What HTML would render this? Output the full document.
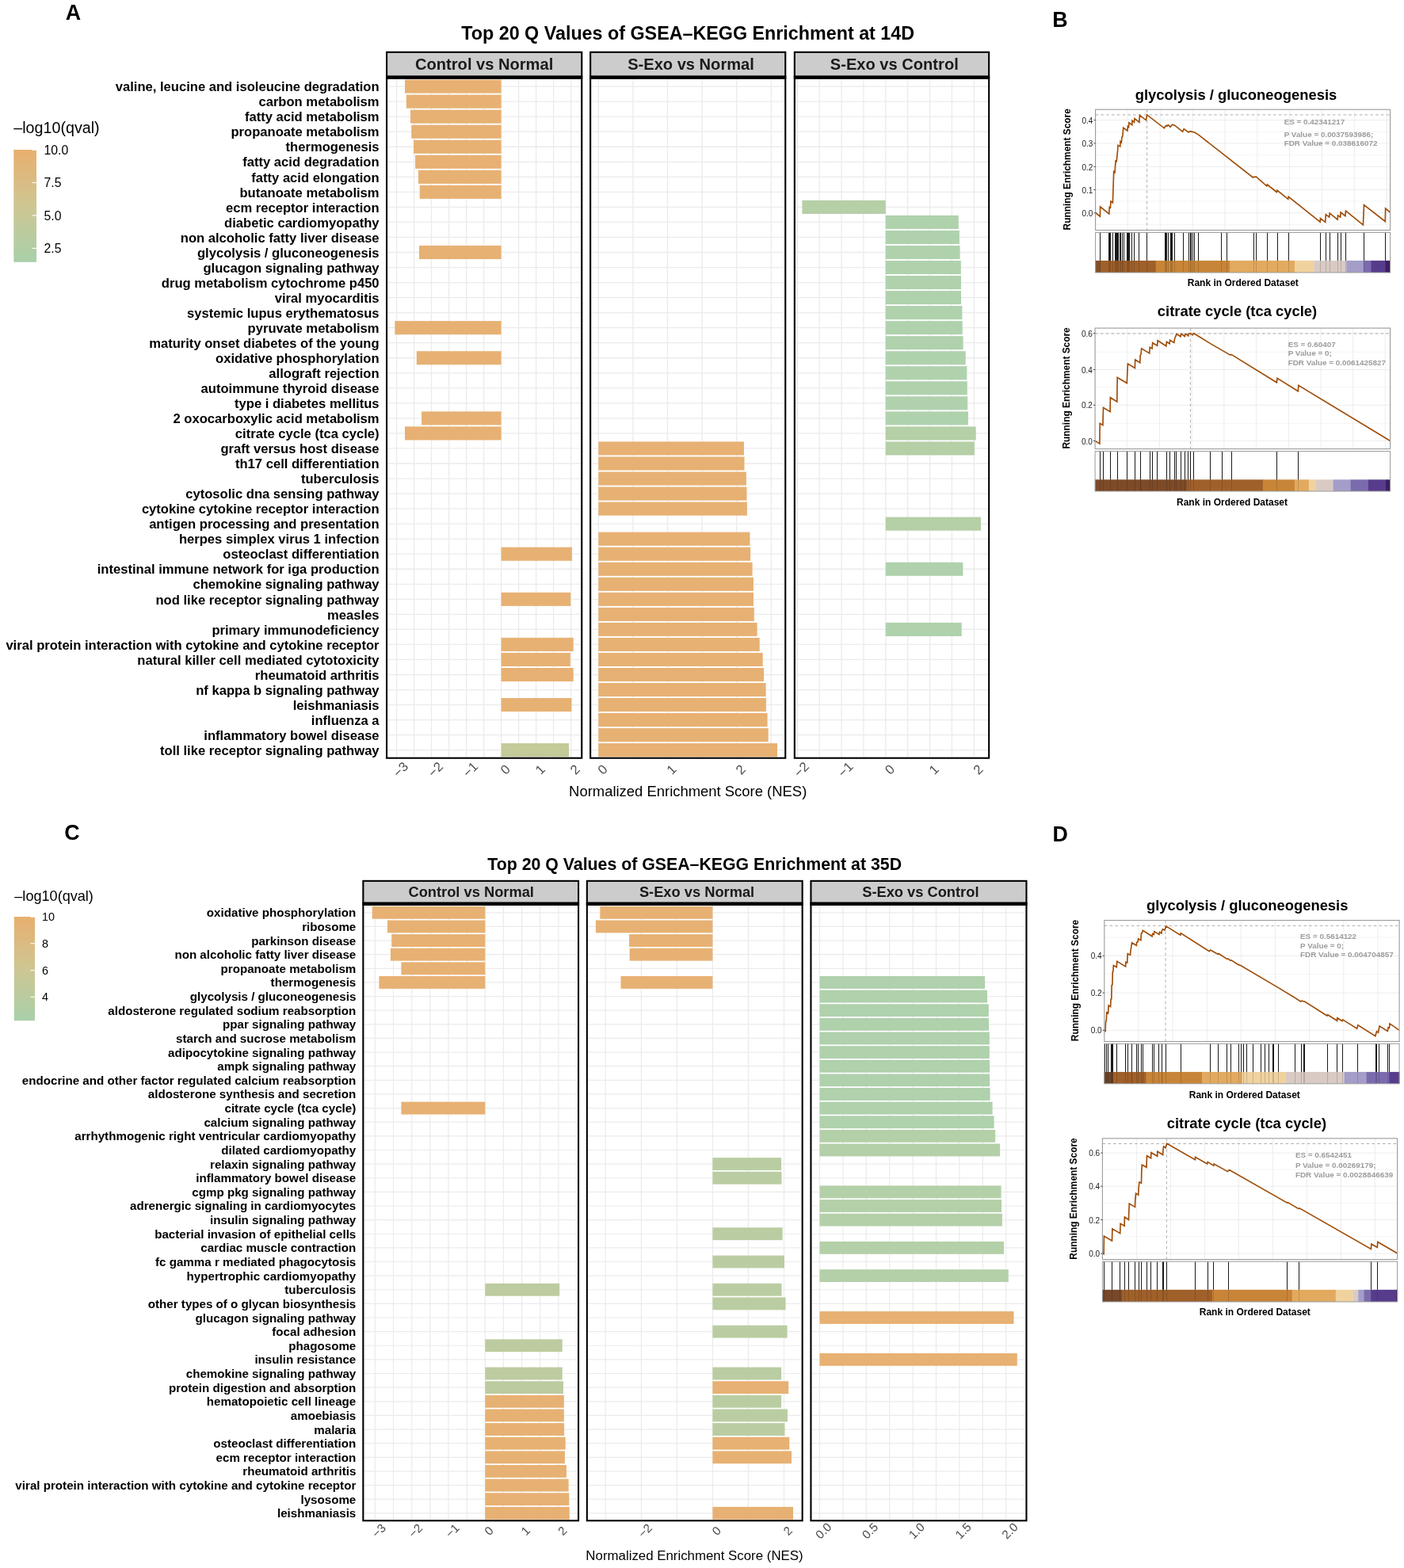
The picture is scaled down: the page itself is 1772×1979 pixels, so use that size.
<!DOCTYPE html>
<html><head><meta charset="utf-8"><title>GSEA-KEGG Enrichment</title>
<style>html,body{margin:0;padding:0;background:#fff;} body{width:1772px;height:1979px;overflow:hidden;} svg{display:block;}</style>
</head><body>
<svg width="1772" height="1979" viewBox="0 0 1772 1979" font-family="'Liberation Sans', Arial, Helvetica, sans-serif">
<rect width="1772" height="1979" fill="#FFFFFF"/>
<text x="92.4" y="25.4" font-size="26.8" font-weight="bold" text-anchor="middle" fill="#000">A</text>
<text x="1337.9" y="34.4" font-size="26.8" font-weight="bold" text-anchor="middle" fill="#000">B</text>
<text x="91" y="1060.3" font-size="26.8" font-weight="bold" text-anchor="middle" fill="#000">C</text>
<text x="1338.3" y="1061.9" font-size="26.8" font-weight="bold" text-anchor="middle" fill="#000">D</text>
<text x="868.2" y="50.2" font-size="23.3" font-weight="bold" text-anchor="middle" fill="#000">Top 20 Q Values of GSEA–KEGG Enrichment at 14D</text>
<rect x="488.05" y="65.85" width="246.2" height="30.8" fill="#CCCCCC" stroke="#000" stroke-width="2.1"/>
<text x="611.15" y="88.2" font-size="20.1" font-weight="bold" text-anchor="middle" fill="#1A1A1A">Control vs Normal</text>
<rect x="489.1" y="99.7" width="244.1" height="856" fill="#FFFFFF"/>
<line x1="522.6" y1="99.7" x2="522.6" y2="955.7" stroke="#EBEBEB" stroke-width="1.3"/><line x1="566.6" y1="99.7" x2="566.6" y2="955.7" stroke="#EBEBEB" stroke-width="1.3"/><line x1="610.6" y1="99.7" x2="610.6" y2="955.7" stroke="#EBEBEB" stroke-width="1.3"/><line x1="654.6" y1="99.7" x2="654.6" y2="955.7" stroke="#EBEBEB" stroke-width="1.3"/><line x1="698.6" y1="99.7" x2="698.6" y2="955.7" stroke="#EBEBEB" stroke-width="1.3"/><line x1="500.6" y1="99.7" x2="500.6" y2="955.7" stroke="#EBEBEB" stroke-width="1.3"/><line x1="544.6" y1="99.7" x2="544.6" y2="955.7" stroke="#EBEBEB" stroke-width="1.3"/><line x1="588.6" y1="99.7" x2="588.6" y2="955.7" stroke="#EBEBEB" stroke-width="1.3"/><line x1="632.6" y1="99.7" x2="632.6" y2="955.7" stroke="#EBEBEB" stroke-width="1.3"/><line x1="676.6" y1="99.7" x2="676.6" y2="955.7" stroke="#EBEBEB" stroke-width="1.3"/><line x1="720.6" y1="99.7" x2="720.6" y2="955.7" stroke="#EBEBEB" stroke-width="1.3"/><line x1="489.1" y1="109.1" x2="733.2" y2="109.1" stroke="#EBEBEB" stroke-width="1.3"/><line x1="489.1" y1="128.14" x2="733.2" y2="128.14" stroke="#EBEBEB" stroke-width="1.3"/><line x1="489.1" y1="147.17" x2="733.2" y2="147.17" stroke="#EBEBEB" stroke-width="1.3"/><line x1="489.1" y1="166.21" x2="733.2" y2="166.21" stroke="#EBEBEB" stroke-width="1.3"/><line x1="489.1" y1="185.24" x2="733.2" y2="185.24" stroke="#EBEBEB" stroke-width="1.3"/><line x1="489.1" y1="204.28" x2="733.2" y2="204.28" stroke="#EBEBEB" stroke-width="1.3"/><line x1="489.1" y1="223.32" x2="733.2" y2="223.32" stroke="#EBEBEB" stroke-width="1.3"/><line x1="489.1" y1="242.35" x2="733.2" y2="242.35" stroke="#EBEBEB" stroke-width="1.3"/><line x1="489.1" y1="261.39" x2="733.2" y2="261.39" stroke="#EBEBEB" stroke-width="1.3"/><line x1="489.1" y1="280.42" x2="733.2" y2="280.42" stroke="#EBEBEB" stroke-width="1.3"/><line x1="489.1" y1="299.46" x2="733.2" y2="299.46" stroke="#EBEBEB" stroke-width="1.3"/><line x1="489.1" y1="318.5" x2="733.2" y2="318.5" stroke="#EBEBEB" stroke-width="1.3"/><line x1="489.1" y1="337.53" x2="733.2" y2="337.53" stroke="#EBEBEB" stroke-width="1.3"/><line x1="489.1" y1="356.57" x2="733.2" y2="356.57" stroke="#EBEBEB" stroke-width="1.3"/><line x1="489.1" y1="375.6" x2="733.2" y2="375.6" stroke="#EBEBEB" stroke-width="1.3"/><line x1="489.1" y1="394.64" x2="733.2" y2="394.64" stroke="#EBEBEB" stroke-width="1.3"/><line x1="489.1" y1="413.68" x2="733.2" y2="413.68" stroke="#EBEBEB" stroke-width="1.3"/><line x1="489.1" y1="432.71" x2="733.2" y2="432.71" stroke="#EBEBEB" stroke-width="1.3"/><line x1="489.1" y1="451.75" x2="733.2" y2="451.75" stroke="#EBEBEB" stroke-width="1.3"/><line x1="489.1" y1="470.78" x2="733.2" y2="470.78" stroke="#EBEBEB" stroke-width="1.3"/><line x1="489.1" y1="489.82" x2="733.2" y2="489.82" stroke="#EBEBEB" stroke-width="1.3"/><line x1="489.1" y1="508.86" x2="733.2" y2="508.86" stroke="#EBEBEB" stroke-width="1.3"/><line x1="489.1" y1="527.89" x2="733.2" y2="527.89" stroke="#EBEBEB" stroke-width="1.3"/><line x1="489.1" y1="546.93" x2="733.2" y2="546.93" stroke="#EBEBEB" stroke-width="1.3"/><line x1="489.1" y1="565.96" x2="733.2" y2="565.96" stroke="#EBEBEB" stroke-width="1.3"/><line x1="489.1" y1="585" x2="733.2" y2="585" stroke="#EBEBEB" stroke-width="1.3"/><line x1="489.1" y1="604.04" x2="733.2" y2="604.04" stroke="#EBEBEB" stroke-width="1.3"/><line x1="489.1" y1="623.07" x2="733.2" y2="623.07" stroke="#EBEBEB" stroke-width="1.3"/><line x1="489.1" y1="642.11" x2="733.2" y2="642.11" stroke="#EBEBEB" stroke-width="1.3"/><line x1="489.1" y1="661.14" x2="733.2" y2="661.14" stroke="#EBEBEB" stroke-width="1.3"/><line x1="489.1" y1="680.18" x2="733.2" y2="680.18" stroke="#EBEBEB" stroke-width="1.3"/><line x1="489.1" y1="699.22" x2="733.2" y2="699.22" stroke="#EBEBEB" stroke-width="1.3"/><line x1="489.1" y1="718.25" x2="733.2" y2="718.25" stroke="#EBEBEB" stroke-width="1.3"/><line x1="489.1" y1="737.29" x2="733.2" y2="737.29" stroke="#EBEBEB" stroke-width="1.3"/><line x1="489.1" y1="756.32" x2="733.2" y2="756.32" stroke="#EBEBEB" stroke-width="1.3"/><line x1="489.1" y1="775.36" x2="733.2" y2="775.36" stroke="#EBEBEB" stroke-width="1.3"/><line x1="489.1" y1="794.4" x2="733.2" y2="794.4" stroke="#EBEBEB" stroke-width="1.3"/><line x1="489.1" y1="813.43" x2="733.2" y2="813.43" stroke="#EBEBEB" stroke-width="1.3"/><line x1="489.1" y1="832.47" x2="733.2" y2="832.47" stroke="#EBEBEB" stroke-width="1.3"/><line x1="489.1" y1="851.5" x2="733.2" y2="851.5" stroke="#EBEBEB" stroke-width="1.3"/><line x1="489.1" y1="870.54" x2="733.2" y2="870.54" stroke="#EBEBEB" stroke-width="1.3"/><line x1="489.1" y1="889.58" x2="733.2" y2="889.58" stroke="#EBEBEB" stroke-width="1.3"/><line x1="489.1" y1="908.61" x2="733.2" y2="908.61" stroke="#EBEBEB" stroke-width="1.3"/><line x1="489.1" y1="927.65" x2="733.2" y2="927.65" stroke="#EBEBEB" stroke-width="1.3"/><line x1="489.1" y1="946.68" x2="733.2" y2="946.68" stroke="#EBEBEB" stroke-width="1.3"/>
<rect x="511" y="100.55" width="121.6" height="17.1" fill="#E7B173"/><rect x="512.8" y="119.59" width="119.8" height="17.1" fill="#E7B173"/><rect x="518" y="138.62" width="114.6" height="17.1" fill="#E7B173"/><rect x="519.2" y="157.66" width="113.4" height="17.1" fill="#E7B173"/><rect x="522" y="176.69" width="110.6" height="17.1" fill="#E7B173"/><rect x="524.1" y="195.73" width="108.5" height="17.1" fill="#E7B173"/><rect x="527.9" y="214.77" width="104.7" height="17.1" fill="#E7B173"/><rect x="529.7" y="233.8" width="102.9" height="17.1" fill="#E7B173"/><rect x="529" y="309.95" width="103.6" height="17.1" fill="#E7B173"/><rect x="498.3" y="405.13" width="134.3" height="17.1" fill="#E7B173"/><rect x="525.8" y="443.2" width="106.8" height="17.1" fill="#E7B173"/><rect x="532.1" y="519.34" width="100.5" height="17.1" fill="#E7B173"/><rect x="511" y="538.38" width="121.6" height="17.1" fill="#E7B173"/><rect x="632.6" y="690.67" width="89.3" height="17.1" fill="#E7B173"/><rect x="632.6" y="747.77" width="87.6" height="17.1" fill="#E7B173"/><rect x="632.6" y="804.88" width="91.1" height="17.1" fill="#E7B173"/><rect x="632.6" y="823.92" width="87.2" height="17.1" fill="#E7B173"/><rect x="632.6" y="842.95" width="91.1" height="17.1" fill="#E7B173"/><rect x="632.6" y="881.03" width="88.9" height="17.1" fill="#E7B173"/><rect x="632.6" y="938.13" width="85.4" height="17.1" fill="#C4CA99"/>
<rect x="488.05" y="98.65" width="246.2" height="858.1" fill="none" stroke="#000" stroke-width="2.1"/>
<rect x="487" y="95.6" width="248.3" height="4.1" fill="#000"/>
<text x="0" y="0" font-size="16.6" text-anchor="middle" dominant-baseline="central" fill="#4D4D4D" transform="translate(505.8,971.4) rotate(-45)">−3</text>
<text x="0" y="0" font-size="16.6" text-anchor="middle" dominant-baseline="central" fill="#4D4D4D" transform="translate(549.8,971.4) rotate(-45)">−2</text>
<text x="0" y="0" font-size="16.6" text-anchor="middle" dominant-baseline="central" fill="#4D4D4D" transform="translate(593.8,971.4) rotate(-45)">−1</text>
<text x="0" y="0" font-size="16.6" text-anchor="middle" dominant-baseline="central" fill="#4D4D4D" transform="translate(637.8,971.4) rotate(-45)">0</text>
<text x="0" y="0" font-size="16.6" text-anchor="middle" dominant-baseline="central" fill="#4D4D4D" transform="translate(681.8,971.4) rotate(-45)">1</text>
<text x="0" y="0" font-size="16.6" text-anchor="middle" dominant-baseline="central" fill="#4D4D4D" transform="translate(725.8,971.4) rotate(-45)">2</text>
<rect x="745.15" y="65.85" width="246.1" height="30.8" fill="#CCCCCC" stroke="#000" stroke-width="2.1"/>
<text x="872" y="88.2" font-size="20.1" font-weight="bold" text-anchor="middle" fill="#1A1A1A">S-Exo vs Normal</text>
<rect x="746.2" y="99.7" width="244" height="856" fill="#FFFFFF"/>
<line x1="798.9" y1="99.7" x2="798.9" y2="955.7" stroke="#EBEBEB" stroke-width="1.3"/><line x1="886.1" y1="99.7" x2="886.1" y2="955.7" stroke="#EBEBEB" stroke-width="1.3"/><line x1="973.3" y1="99.7" x2="973.3" y2="955.7" stroke="#EBEBEB" stroke-width="1.3"/><line x1="755.3" y1="99.7" x2="755.3" y2="955.7" stroke="#EBEBEB" stroke-width="1.3"/><line x1="842.5" y1="99.7" x2="842.5" y2="955.7" stroke="#EBEBEB" stroke-width="1.3"/><line x1="929.7" y1="99.7" x2="929.7" y2="955.7" stroke="#EBEBEB" stroke-width="1.3"/><line x1="746.2" y1="109.1" x2="990.2" y2="109.1" stroke="#EBEBEB" stroke-width="1.3"/><line x1="746.2" y1="128.14" x2="990.2" y2="128.14" stroke="#EBEBEB" stroke-width="1.3"/><line x1="746.2" y1="147.17" x2="990.2" y2="147.17" stroke="#EBEBEB" stroke-width="1.3"/><line x1="746.2" y1="166.21" x2="990.2" y2="166.21" stroke="#EBEBEB" stroke-width="1.3"/><line x1="746.2" y1="185.24" x2="990.2" y2="185.24" stroke="#EBEBEB" stroke-width="1.3"/><line x1="746.2" y1="204.28" x2="990.2" y2="204.28" stroke="#EBEBEB" stroke-width="1.3"/><line x1="746.2" y1="223.32" x2="990.2" y2="223.32" stroke="#EBEBEB" stroke-width="1.3"/><line x1="746.2" y1="242.35" x2="990.2" y2="242.35" stroke="#EBEBEB" stroke-width="1.3"/><line x1="746.2" y1="261.39" x2="990.2" y2="261.39" stroke="#EBEBEB" stroke-width="1.3"/><line x1="746.2" y1="280.42" x2="990.2" y2="280.42" stroke="#EBEBEB" stroke-width="1.3"/><line x1="746.2" y1="299.46" x2="990.2" y2="299.46" stroke="#EBEBEB" stroke-width="1.3"/><line x1="746.2" y1="318.5" x2="990.2" y2="318.5" stroke="#EBEBEB" stroke-width="1.3"/><line x1="746.2" y1="337.53" x2="990.2" y2="337.53" stroke="#EBEBEB" stroke-width="1.3"/><line x1="746.2" y1="356.57" x2="990.2" y2="356.57" stroke="#EBEBEB" stroke-width="1.3"/><line x1="746.2" y1="375.6" x2="990.2" y2="375.6" stroke="#EBEBEB" stroke-width="1.3"/><line x1="746.2" y1="394.64" x2="990.2" y2="394.64" stroke="#EBEBEB" stroke-width="1.3"/><line x1="746.2" y1="413.68" x2="990.2" y2="413.68" stroke="#EBEBEB" stroke-width="1.3"/><line x1="746.2" y1="432.71" x2="990.2" y2="432.71" stroke="#EBEBEB" stroke-width="1.3"/><line x1="746.2" y1="451.75" x2="990.2" y2="451.75" stroke="#EBEBEB" stroke-width="1.3"/><line x1="746.2" y1="470.78" x2="990.2" y2="470.78" stroke="#EBEBEB" stroke-width="1.3"/><line x1="746.2" y1="489.82" x2="990.2" y2="489.82" stroke="#EBEBEB" stroke-width="1.3"/><line x1="746.2" y1="508.86" x2="990.2" y2="508.86" stroke="#EBEBEB" stroke-width="1.3"/><line x1="746.2" y1="527.89" x2="990.2" y2="527.89" stroke="#EBEBEB" stroke-width="1.3"/><line x1="746.2" y1="546.93" x2="990.2" y2="546.93" stroke="#EBEBEB" stroke-width="1.3"/><line x1="746.2" y1="565.96" x2="990.2" y2="565.96" stroke="#EBEBEB" stroke-width="1.3"/><line x1="746.2" y1="585" x2="990.2" y2="585" stroke="#EBEBEB" stroke-width="1.3"/><line x1="746.2" y1="604.04" x2="990.2" y2="604.04" stroke="#EBEBEB" stroke-width="1.3"/><line x1="746.2" y1="623.07" x2="990.2" y2="623.07" stroke="#EBEBEB" stroke-width="1.3"/><line x1="746.2" y1="642.11" x2="990.2" y2="642.11" stroke="#EBEBEB" stroke-width="1.3"/><line x1="746.2" y1="661.14" x2="990.2" y2="661.14" stroke="#EBEBEB" stroke-width="1.3"/><line x1="746.2" y1="680.18" x2="990.2" y2="680.18" stroke="#EBEBEB" stroke-width="1.3"/><line x1="746.2" y1="699.22" x2="990.2" y2="699.22" stroke="#EBEBEB" stroke-width="1.3"/><line x1="746.2" y1="718.25" x2="990.2" y2="718.25" stroke="#EBEBEB" stroke-width="1.3"/><line x1="746.2" y1="737.29" x2="990.2" y2="737.29" stroke="#EBEBEB" stroke-width="1.3"/><line x1="746.2" y1="756.32" x2="990.2" y2="756.32" stroke="#EBEBEB" stroke-width="1.3"/><line x1="746.2" y1="775.36" x2="990.2" y2="775.36" stroke="#EBEBEB" stroke-width="1.3"/><line x1="746.2" y1="794.4" x2="990.2" y2="794.4" stroke="#EBEBEB" stroke-width="1.3"/><line x1="746.2" y1="813.43" x2="990.2" y2="813.43" stroke="#EBEBEB" stroke-width="1.3"/><line x1="746.2" y1="832.47" x2="990.2" y2="832.47" stroke="#EBEBEB" stroke-width="1.3"/><line x1="746.2" y1="851.5" x2="990.2" y2="851.5" stroke="#EBEBEB" stroke-width="1.3"/><line x1="746.2" y1="870.54" x2="990.2" y2="870.54" stroke="#EBEBEB" stroke-width="1.3"/><line x1="746.2" y1="889.58" x2="990.2" y2="889.58" stroke="#EBEBEB" stroke-width="1.3"/><line x1="746.2" y1="908.61" x2="990.2" y2="908.61" stroke="#EBEBEB" stroke-width="1.3"/><line x1="746.2" y1="927.65" x2="990.2" y2="927.65" stroke="#EBEBEB" stroke-width="1.3"/><line x1="746.2" y1="946.68" x2="990.2" y2="946.68" stroke="#EBEBEB" stroke-width="1.3"/>
<rect x="755.3" y="557.41" width="183.7" height="17.1" fill="#E7B173"/><rect x="755.3" y="576.45" width="184.2" height="17.1" fill="#E7B173"/><rect x="755.3" y="595.49" width="186.6" height="17.1" fill="#E7B173"/><rect x="755.3" y="614.52" width="187.2" height="17.1" fill="#E7B173"/><rect x="755.3" y="633.56" width="187.6" height="17.1" fill="#E7B173"/><rect x="755.3" y="671.63" width="191.2" height="17.1" fill="#E7B173"/><rect x="755.3" y="690.67" width="191.9" height="17.1" fill="#E7B173"/><rect x="755.3" y="709.7" width="194.3" height="17.1" fill="#E7B173"/><rect x="755.3" y="728.74" width="195.7" height="17.1" fill="#E7B173"/><rect x="755.3" y="747.77" width="195.7" height="17.1" fill="#E7B173"/><rect x="755.3" y="766.81" width="196.5" height="17.1" fill="#E7B173"/><rect x="755.3" y="785.85" width="200.3" height="17.1" fill="#E7B173"/><rect x="755.3" y="804.88" width="203.4" height="17.1" fill="#E7B173"/><rect x="755.3" y="823.92" width="207.4" height="17.1" fill="#E7B173"/><rect x="755.3" y="842.95" width="208.8" height="17.1" fill="#E7B173"/><rect x="755.3" y="861.99" width="211.3" height="17.1" fill="#E7B173"/><rect x="755.3" y="881.03" width="211.6" height="17.1" fill="#E7B173"/><rect x="755.3" y="900.06" width="213.3" height="17.1" fill="#E7B173"/><rect x="755.3" y="919.1" width="214.4" height="17.1" fill="#E7B173"/><rect x="755.3" y="938.13" width="225.7" height="17.1" fill="#E7B173"/>
<rect x="745.15" y="98.65" width="246.1" height="858.1" fill="none" stroke="#000" stroke-width="2.1"/>
<rect x="744.1" y="95.6" width="248.2" height="4.1" fill="#000"/>
<text x="0" y="0" font-size="16.6" text-anchor="middle" dominant-baseline="central" fill="#4D4D4D" transform="translate(760.5,971.4) rotate(-45)">0</text>
<text x="0" y="0" font-size="16.6" text-anchor="middle" dominant-baseline="central" fill="#4D4D4D" transform="translate(847.7,971.4) rotate(-45)">1</text>
<text x="0" y="0" font-size="16.6" text-anchor="middle" dominant-baseline="central" fill="#4D4D4D" transform="translate(934.9,971.4) rotate(-45)">2</text>
<rect x="1002.85" y="65.85" width="245.3" height="30.8" fill="#CCCCCC" stroke="#000" stroke-width="2.1"/>
<text x="1128.8" y="88.2" font-size="20.1" font-weight="bold" text-anchor="middle" fill="#1A1A1A">S-Exo vs Control</text>
<rect x="1003.9" y="99.7" width="243.2" height="856" fill="#FFFFFF"/>
<line x1="1034.17" y1="99.7" x2="1034.17" y2="955.7" stroke="#EBEBEB" stroke-width="1.3"/><line x1="1089.92" y1="99.7" x2="1089.92" y2="955.7" stroke="#EBEBEB" stroke-width="1.3"/><line x1="1145.67" y1="99.7" x2="1145.67" y2="955.7" stroke="#EBEBEB" stroke-width="1.3"/><line x1="1201.42" y1="99.7" x2="1201.42" y2="955.7" stroke="#EBEBEB" stroke-width="1.3"/><line x1="1006.3" y1="99.7" x2="1006.3" y2="955.7" stroke="#EBEBEB" stroke-width="1.3"/><line x1="1062.05" y1="99.7" x2="1062.05" y2="955.7" stroke="#EBEBEB" stroke-width="1.3"/><line x1="1117.8" y1="99.7" x2="1117.8" y2="955.7" stroke="#EBEBEB" stroke-width="1.3"/><line x1="1173.55" y1="99.7" x2="1173.55" y2="955.7" stroke="#EBEBEB" stroke-width="1.3"/><line x1="1229.3" y1="99.7" x2="1229.3" y2="955.7" stroke="#EBEBEB" stroke-width="1.3"/><line x1="1003.9" y1="109.1" x2="1247.1" y2="109.1" stroke="#EBEBEB" stroke-width="1.3"/><line x1="1003.9" y1="128.14" x2="1247.1" y2="128.14" stroke="#EBEBEB" stroke-width="1.3"/><line x1="1003.9" y1="147.17" x2="1247.1" y2="147.17" stroke="#EBEBEB" stroke-width="1.3"/><line x1="1003.9" y1="166.21" x2="1247.1" y2="166.21" stroke="#EBEBEB" stroke-width="1.3"/><line x1="1003.9" y1="185.24" x2="1247.1" y2="185.24" stroke="#EBEBEB" stroke-width="1.3"/><line x1="1003.9" y1="204.28" x2="1247.1" y2="204.28" stroke="#EBEBEB" stroke-width="1.3"/><line x1="1003.9" y1="223.32" x2="1247.1" y2="223.32" stroke="#EBEBEB" stroke-width="1.3"/><line x1="1003.9" y1="242.35" x2="1247.1" y2="242.35" stroke="#EBEBEB" stroke-width="1.3"/><line x1="1003.9" y1="261.39" x2="1247.1" y2="261.39" stroke="#EBEBEB" stroke-width="1.3"/><line x1="1003.9" y1="280.42" x2="1247.1" y2="280.42" stroke="#EBEBEB" stroke-width="1.3"/><line x1="1003.9" y1="299.46" x2="1247.1" y2="299.46" stroke="#EBEBEB" stroke-width="1.3"/><line x1="1003.9" y1="318.5" x2="1247.1" y2="318.5" stroke="#EBEBEB" stroke-width="1.3"/><line x1="1003.9" y1="337.53" x2="1247.1" y2="337.53" stroke="#EBEBEB" stroke-width="1.3"/><line x1="1003.9" y1="356.57" x2="1247.1" y2="356.57" stroke="#EBEBEB" stroke-width="1.3"/><line x1="1003.9" y1="375.6" x2="1247.1" y2="375.6" stroke="#EBEBEB" stroke-width="1.3"/><line x1="1003.9" y1="394.64" x2="1247.1" y2="394.64" stroke="#EBEBEB" stroke-width="1.3"/><line x1="1003.9" y1="413.68" x2="1247.1" y2="413.68" stroke="#EBEBEB" stroke-width="1.3"/><line x1="1003.9" y1="432.71" x2="1247.1" y2="432.71" stroke="#EBEBEB" stroke-width="1.3"/><line x1="1003.9" y1="451.75" x2="1247.1" y2="451.75" stroke="#EBEBEB" stroke-width="1.3"/><line x1="1003.9" y1="470.78" x2="1247.1" y2="470.78" stroke="#EBEBEB" stroke-width="1.3"/><line x1="1003.9" y1="489.82" x2="1247.1" y2="489.82" stroke="#EBEBEB" stroke-width="1.3"/><line x1="1003.9" y1="508.86" x2="1247.1" y2="508.86" stroke="#EBEBEB" stroke-width="1.3"/><line x1="1003.9" y1="527.89" x2="1247.1" y2="527.89" stroke="#EBEBEB" stroke-width="1.3"/><line x1="1003.9" y1="546.93" x2="1247.1" y2="546.93" stroke="#EBEBEB" stroke-width="1.3"/><line x1="1003.9" y1="565.96" x2="1247.1" y2="565.96" stroke="#EBEBEB" stroke-width="1.3"/><line x1="1003.9" y1="585" x2="1247.1" y2="585" stroke="#EBEBEB" stroke-width="1.3"/><line x1="1003.9" y1="604.04" x2="1247.1" y2="604.04" stroke="#EBEBEB" stroke-width="1.3"/><line x1="1003.9" y1="623.07" x2="1247.1" y2="623.07" stroke="#EBEBEB" stroke-width="1.3"/><line x1="1003.9" y1="642.11" x2="1247.1" y2="642.11" stroke="#EBEBEB" stroke-width="1.3"/><line x1="1003.9" y1="661.14" x2="1247.1" y2="661.14" stroke="#EBEBEB" stroke-width="1.3"/><line x1="1003.9" y1="680.18" x2="1247.1" y2="680.18" stroke="#EBEBEB" stroke-width="1.3"/><line x1="1003.9" y1="699.22" x2="1247.1" y2="699.22" stroke="#EBEBEB" stroke-width="1.3"/><line x1="1003.9" y1="718.25" x2="1247.1" y2="718.25" stroke="#EBEBEB" stroke-width="1.3"/><line x1="1003.9" y1="737.29" x2="1247.1" y2="737.29" stroke="#EBEBEB" stroke-width="1.3"/><line x1="1003.9" y1="756.32" x2="1247.1" y2="756.32" stroke="#EBEBEB" stroke-width="1.3"/><line x1="1003.9" y1="775.36" x2="1247.1" y2="775.36" stroke="#EBEBEB" stroke-width="1.3"/><line x1="1003.9" y1="794.4" x2="1247.1" y2="794.4" stroke="#EBEBEB" stroke-width="1.3"/><line x1="1003.9" y1="813.43" x2="1247.1" y2="813.43" stroke="#EBEBEB" stroke-width="1.3"/><line x1="1003.9" y1="832.47" x2="1247.1" y2="832.47" stroke="#EBEBEB" stroke-width="1.3"/><line x1="1003.9" y1="851.5" x2="1247.1" y2="851.5" stroke="#EBEBEB" stroke-width="1.3"/><line x1="1003.9" y1="870.54" x2="1247.1" y2="870.54" stroke="#EBEBEB" stroke-width="1.3"/><line x1="1003.9" y1="889.58" x2="1247.1" y2="889.58" stroke="#EBEBEB" stroke-width="1.3"/><line x1="1003.9" y1="908.61" x2="1247.1" y2="908.61" stroke="#EBEBEB" stroke-width="1.3"/><line x1="1003.9" y1="927.65" x2="1247.1" y2="927.65" stroke="#EBEBEB" stroke-width="1.3"/><line x1="1003.9" y1="946.68" x2="1247.1" y2="946.68" stroke="#EBEBEB" stroke-width="1.3"/>
<rect x="1012.4" y="252.84" width="105.4" height="17.1" fill="#B5CFA6"/><rect x="1117.8" y="271.87" width="92" height="17.1" fill="#AFD2AD"/><rect x="1117.8" y="290.91" width="93.1" height="17.1" fill="#AFD2AD"/><rect x="1117.8" y="309.95" width="93.8" height="17.1" fill="#AFD2AD"/><rect x="1117.8" y="328.98" width="95" height="17.1" fill="#AFD2AD"/><rect x="1117.8" y="348.02" width="95.2" height="17.1" fill="#AFD2AD"/><rect x="1117.8" y="367.05" width="95.2" height="17.1" fill="#AFD2AD"/><rect x="1117.8" y="386.09" width="96.6" height="17.1" fill="#AFD2AD"/><rect x="1117.8" y="405.13" width="96.9" height="17.1" fill="#AFD2AD"/><rect x="1117.8" y="424.16" width="97.8" height="17.1" fill="#AFD2AD"/><rect x="1117.8" y="443.2" width="100.9" height="17.1" fill="#AFD2AD"/><rect x="1117.8" y="462.23" width="102.6" height="17.1" fill="#AFD2AD"/><rect x="1117.8" y="481.27" width="103" height="17.1" fill="#AFD2AD"/><rect x="1117.8" y="500.31" width="103.4" height="17.1" fill="#AFD2AD"/><rect x="1117.8" y="519.34" width="104.1" height="17.1" fill="#AFD2AD"/><rect x="1117.8" y="538.38" width="113.9" height="17.1" fill="#B5CFA6"/><rect x="1117.8" y="557.41" width="112.2" height="17.1" fill="#B5CFA6"/><rect x="1117.8" y="652.59" width="120.2" height="17.1" fill="#B5CFA6"/><rect x="1117.8" y="709.7" width="97.6" height="17.1" fill="#AFD2AD"/><rect x="1117.8" y="785.85" width="95.9" height="17.1" fill="#AFD2AD"/>
<rect x="1002.85" y="98.65" width="245.3" height="858.1" fill="none" stroke="#000" stroke-width="2.1"/>
<rect x="1001.8" y="95.6" width="247.4" height="4.1" fill="#000"/>
<text x="0" y="0" font-size="16.6" text-anchor="middle" dominant-baseline="central" fill="#4D4D4D" transform="translate(1011.5,971.4) rotate(-45)">−2</text>
<text x="0" y="0" font-size="16.6" text-anchor="middle" dominant-baseline="central" fill="#4D4D4D" transform="translate(1067.25,971.4) rotate(-45)">−1</text>
<text x="0" y="0" font-size="16.6" text-anchor="middle" dominant-baseline="central" fill="#4D4D4D" transform="translate(1123,971.4) rotate(-45)">0</text>
<text x="0" y="0" font-size="16.6" text-anchor="middle" dominant-baseline="central" fill="#4D4D4D" transform="translate(1178.75,971.4) rotate(-45)">1</text>
<text x="0" y="0" font-size="16.6" text-anchor="middle" dominant-baseline="central" fill="#4D4D4D" transform="translate(1234.5,971.4) rotate(-45)">2</text>
<text x="478.6" y="115.3" font-size="16.6" font-weight="bold" text-anchor="end" fill="#000">valine, leucine and isoleucine degradation</text><text x="478.6" y="134.34" font-size="16.6" font-weight="bold" text-anchor="end" fill="#000">carbon metabolism</text><text x="478.6" y="153.37" font-size="16.6" font-weight="bold" text-anchor="end" fill="#000">fatty acid metabolism</text><text x="478.6" y="172.41" font-size="16.6" font-weight="bold" text-anchor="end" fill="#000">propanoate metabolism</text><text x="478.6" y="191.44" font-size="16.6" font-weight="bold" text-anchor="end" fill="#000">thermogenesis</text><text x="478.6" y="210.48" font-size="16.6" font-weight="bold" text-anchor="end" fill="#000">fatty acid degradation</text><text x="478.6" y="229.52" font-size="16.6" font-weight="bold" text-anchor="end" fill="#000">fatty acid elongation</text><text x="478.6" y="248.55" font-size="16.6" font-weight="bold" text-anchor="end" fill="#000">butanoate metabolism</text><text x="478.6" y="267.59" font-size="16.6" font-weight="bold" text-anchor="end" fill="#000">ecm receptor interaction</text><text x="478.6" y="286.62" font-size="16.6" font-weight="bold" text-anchor="end" fill="#000">diabetic cardiomyopathy</text><text x="478.6" y="305.66" font-size="16.6" font-weight="bold" text-anchor="end" fill="#000">non alcoholic fatty liver disease</text><text x="478.6" y="324.7" font-size="16.6" font-weight="bold" text-anchor="end" fill="#000">glycolysis / gluconeogenesis</text><text x="478.6" y="343.73" font-size="16.6" font-weight="bold" text-anchor="end" fill="#000">glucagon signaling pathway</text><text x="478.6" y="362.77" font-size="16.6" font-weight="bold" text-anchor="end" fill="#000">drug metabolism cytochrome p450</text><text x="478.6" y="381.8" font-size="16.6" font-weight="bold" text-anchor="end" fill="#000">viral myocarditis</text><text x="478.6" y="400.84" font-size="16.6" font-weight="bold" text-anchor="end" fill="#000">systemic lupus erythematosus</text><text x="478.6" y="419.88" font-size="16.6" font-weight="bold" text-anchor="end" fill="#000">pyruvate metabolism</text><text x="478.6" y="438.91" font-size="16.6" font-weight="bold" text-anchor="end" fill="#000">maturity onset diabetes of the young</text><text x="478.6" y="457.95" font-size="16.6" font-weight="bold" text-anchor="end" fill="#000">oxidative phosphorylation</text><text x="478.6" y="476.98" font-size="16.6" font-weight="bold" text-anchor="end" fill="#000">allograft rejection</text><text x="478.6" y="496.02" font-size="16.6" font-weight="bold" text-anchor="end" fill="#000">autoimmune thyroid disease</text><text x="478.6" y="515.06" font-size="16.6" font-weight="bold" text-anchor="end" fill="#000">type i diabetes mellitus</text><text x="478.6" y="534.09" font-size="16.6" font-weight="bold" text-anchor="end" fill="#000">2 oxocarboxylic acid metabolism</text><text x="478.6" y="553.13" font-size="16.6" font-weight="bold" text-anchor="end" fill="#000">citrate cycle (tca cycle)</text><text x="478.6" y="572.16" font-size="16.6" font-weight="bold" text-anchor="end" fill="#000">graft versus host disease</text><text x="478.6" y="591.2" font-size="16.6" font-weight="bold" text-anchor="end" fill="#000">th17 cell differentiation</text><text x="478.6" y="610.24" font-size="16.6" font-weight="bold" text-anchor="end" fill="#000">tuberculosis</text><text x="478.6" y="629.27" font-size="16.6" font-weight="bold" text-anchor="end" fill="#000">cytosolic dna sensing pathway</text><text x="478.6" y="648.31" font-size="16.6" font-weight="bold" text-anchor="end" fill="#000">cytokine cytokine receptor interaction</text><text x="478.6" y="667.34" font-size="16.6" font-weight="bold" text-anchor="end" fill="#000">antigen processing and presentation</text><text x="478.6" y="686.38" font-size="16.6" font-weight="bold" text-anchor="end" fill="#000">herpes simplex virus 1 infection</text><text x="478.6" y="705.42" font-size="16.6" font-weight="bold" text-anchor="end" fill="#000">osteoclast differentiation</text><text x="478.6" y="724.45" font-size="16.6" font-weight="bold" text-anchor="end" fill="#000">intestinal immune network for iga production</text><text x="478.6" y="743.49" font-size="16.6" font-weight="bold" text-anchor="end" fill="#000">chemokine signaling pathway</text><text x="478.6" y="762.52" font-size="16.6" font-weight="bold" text-anchor="end" fill="#000">nod like receptor signaling pathway</text><text x="478.6" y="781.56" font-size="16.6" font-weight="bold" text-anchor="end" fill="#000">measles</text><text x="478.6" y="800.6" font-size="16.6" font-weight="bold" text-anchor="end" fill="#000">primary immunodeficiency</text><text x="478.6" y="819.63" font-size="16.6" font-weight="bold" text-anchor="end" fill="#000">viral protein interaction with cytokine and cytokine receptor</text><text x="478.6" y="838.67" font-size="16.6" font-weight="bold" text-anchor="end" fill="#000">natural killer cell mediated cytotoxicity</text><text x="478.6" y="857.7" font-size="16.6" font-weight="bold" text-anchor="end" fill="#000">rheumatoid arthritis</text><text x="478.6" y="876.74" font-size="16.6" font-weight="bold" text-anchor="end" fill="#000">nf kappa b signaling pathway</text><text x="478.6" y="895.78" font-size="16.6" font-weight="bold" text-anchor="end" fill="#000">leishmaniasis</text><text x="478.6" y="914.81" font-size="16.6" font-weight="bold" text-anchor="end" fill="#000">influenza a</text><text x="478.6" y="933.85" font-size="16.6" font-weight="bold" text-anchor="end" fill="#000">inflammatory bowel disease</text><text x="478.6" y="952.88" font-size="16.6" font-weight="bold" text-anchor="end" fill="#000">toll like receptor signaling pathway</text>
<text x="868.2" y="1004.5" font-size="18.45" font-weight="normal" text-anchor="middle" fill="#000">Normalized Enrichment Score (NES)</text>
<text x="17.3" y="168.1" font-size="19.7" font-weight="normal" text-anchor="start" fill="#000">–log10(qval)</text>
<defs><linearGradient id="gA" x1="0" y1="0" x2="0" y2="1"><stop offset="0" stop-color="#E8AF6F"/><stop offset="0.5" stop-color="#CEC692"/><stop offset="1" stop-color="#A8D0A9"/></linearGradient></defs>
<rect x="17.3" y="189" width="28.7" height="141.8" fill="url(#gA)"/>
<line x1="40.4" y1="189.3" x2="46" y2="189.3" stroke="#FFFFFF" stroke-width="1.1"/>
<text x="55.5" y="194.9" font-size="15.8" font-weight="normal" text-anchor="start" fill="#000">10.0</text>
<line x1="40.4" y1="230.5" x2="46" y2="230.5" stroke="#FFFFFF" stroke-width="1.1"/>
<text x="55.5" y="236.1" font-size="15.8" font-weight="normal" text-anchor="start" fill="#000">7.5</text>
<line x1="40.4" y1="271.9" x2="46" y2="271.9" stroke="#FFFFFF" stroke-width="1.1"/>
<text x="55.5" y="277.5" font-size="15.8" font-weight="normal" text-anchor="start" fill="#000">5.0</text>
<line x1="40.4" y1="313.4" x2="46" y2="313.4" stroke="#FFFFFF" stroke-width="1.1"/>
<text x="55.5" y="319" font-size="15.8" font-weight="normal" text-anchor="start" fill="#000">2.5</text>
<text x="876.7" y="1097.7" font-size="21.3" font-weight="bold" text-anchor="middle" fill="#000">Top 20 Q Values of GSEA–KEGG Enrichment at 35D</text>
<rect x="458.35" y="1111.85" width="271.7" height="27.9" fill="#CCCCCC" stroke="#000" stroke-width="2.1"/>
<text x="594.7" y="1132.4" font-size="18.3" font-weight="bold" text-anchor="middle" fill="#1A1A1A">Control vs Normal</text>
<rect x="459.4" y="1142.8" width="269.6" height="775.4" fill="#FFFFFF"/>
<line x1="496.55" y1="1142.8" x2="496.55" y2="1918.2" stroke="#EBEBEB" stroke-width="1.2"/><line x1="542.85" y1="1142.8" x2="542.85" y2="1918.2" stroke="#EBEBEB" stroke-width="1.2"/><line x1="589.15" y1="1142.8" x2="589.15" y2="1918.2" stroke="#EBEBEB" stroke-width="1.2"/><line x1="635.45" y1="1142.8" x2="635.45" y2="1918.2" stroke="#EBEBEB" stroke-width="1.2"/><line x1="681.75" y1="1142.8" x2="681.75" y2="1918.2" stroke="#EBEBEB" stroke-width="1.2"/><line x1="473.4" y1="1142.8" x2="473.4" y2="1918.2" stroke="#EBEBEB" stroke-width="1.2"/><line x1="519.7" y1="1142.8" x2="519.7" y2="1918.2" stroke="#EBEBEB" stroke-width="1.2"/><line x1="566" y1="1142.8" x2="566" y2="1918.2" stroke="#EBEBEB" stroke-width="1.2"/><line x1="612.3" y1="1142.8" x2="612.3" y2="1918.2" stroke="#EBEBEB" stroke-width="1.2"/><line x1="658.6" y1="1142.8" x2="658.6" y2="1918.2" stroke="#EBEBEB" stroke-width="1.2"/><line x1="704.9" y1="1142.8" x2="704.9" y2="1918.2" stroke="#EBEBEB" stroke-width="1.2"/><line x1="459.4" y1="1151.8" x2="729" y2="1151.8" stroke="#EBEBEB" stroke-width="1.2"/><line x1="459.4" y1="1169.43" x2="729" y2="1169.43" stroke="#EBEBEB" stroke-width="1.2"/><line x1="459.4" y1="1187.06" x2="729" y2="1187.06" stroke="#EBEBEB" stroke-width="1.2"/><line x1="459.4" y1="1204.68" x2="729" y2="1204.68" stroke="#EBEBEB" stroke-width="1.2"/><line x1="459.4" y1="1222.31" x2="729" y2="1222.31" stroke="#EBEBEB" stroke-width="1.2"/><line x1="459.4" y1="1239.94" x2="729" y2="1239.94" stroke="#EBEBEB" stroke-width="1.2"/><line x1="459.4" y1="1257.57" x2="729" y2="1257.57" stroke="#EBEBEB" stroke-width="1.2"/><line x1="459.4" y1="1275.2" x2="729" y2="1275.2" stroke="#EBEBEB" stroke-width="1.2"/><line x1="459.4" y1="1292.82" x2="729" y2="1292.82" stroke="#EBEBEB" stroke-width="1.2"/><line x1="459.4" y1="1310.45" x2="729" y2="1310.45" stroke="#EBEBEB" stroke-width="1.2"/><line x1="459.4" y1="1328.08" x2="729" y2="1328.08" stroke="#EBEBEB" stroke-width="1.2"/><line x1="459.4" y1="1345.71" x2="729" y2="1345.71" stroke="#EBEBEB" stroke-width="1.2"/><line x1="459.4" y1="1363.34" x2="729" y2="1363.34" stroke="#EBEBEB" stroke-width="1.2"/><line x1="459.4" y1="1380.96" x2="729" y2="1380.96" stroke="#EBEBEB" stroke-width="1.2"/><line x1="459.4" y1="1398.59" x2="729" y2="1398.59" stroke="#EBEBEB" stroke-width="1.2"/><line x1="459.4" y1="1416.22" x2="729" y2="1416.22" stroke="#EBEBEB" stroke-width="1.2"/><line x1="459.4" y1="1433.85" x2="729" y2="1433.85" stroke="#EBEBEB" stroke-width="1.2"/><line x1="459.4" y1="1451.48" x2="729" y2="1451.48" stroke="#EBEBEB" stroke-width="1.2"/><line x1="459.4" y1="1469.1" x2="729" y2="1469.1" stroke="#EBEBEB" stroke-width="1.2"/><line x1="459.4" y1="1486.73" x2="729" y2="1486.73" stroke="#EBEBEB" stroke-width="1.2"/><line x1="459.4" y1="1504.36" x2="729" y2="1504.36" stroke="#EBEBEB" stroke-width="1.2"/><line x1="459.4" y1="1521.99" x2="729" y2="1521.99" stroke="#EBEBEB" stroke-width="1.2"/><line x1="459.4" y1="1539.62" x2="729" y2="1539.62" stroke="#EBEBEB" stroke-width="1.2"/><line x1="459.4" y1="1557.24" x2="729" y2="1557.24" stroke="#EBEBEB" stroke-width="1.2"/><line x1="459.4" y1="1574.87" x2="729" y2="1574.87" stroke="#EBEBEB" stroke-width="1.2"/><line x1="459.4" y1="1592.5" x2="729" y2="1592.5" stroke="#EBEBEB" stroke-width="1.2"/><line x1="459.4" y1="1610.13" x2="729" y2="1610.13" stroke="#EBEBEB" stroke-width="1.2"/><line x1="459.4" y1="1627.76" x2="729" y2="1627.76" stroke="#EBEBEB" stroke-width="1.2"/><line x1="459.4" y1="1645.38" x2="729" y2="1645.38" stroke="#EBEBEB" stroke-width="1.2"/><line x1="459.4" y1="1663.01" x2="729" y2="1663.01" stroke="#EBEBEB" stroke-width="1.2"/><line x1="459.4" y1="1680.64" x2="729" y2="1680.64" stroke="#EBEBEB" stroke-width="1.2"/><line x1="459.4" y1="1698.27" x2="729" y2="1698.27" stroke="#EBEBEB" stroke-width="1.2"/><line x1="459.4" y1="1715.9" x2="729" y2="1715.9" stroke="#EBEBEB" stroke-width="1.2"/><line x1="459.4" y1="1733.52" x2="729" y2="1733.52" stroke="#EBEBEB" stroke-width="1.2"/><line x1="459.4" y1="1751.15" x2="729" y2="1751.15" stroke="#EBEBEB" stroke-width="1.2"/><line x1="459.4" y1="1768.78" x2="729" y2="1768.78" stroke="#EBEBEB" stroke-width="1.2"/><line x1="459.4" y1="1786.41" x2="729" y2="1786.41" stroke="#EBEBEB" stroke-width="1.2"/><line x1="459.4" y1="1804.04" x2="729" y2="1804.04" stroke="#EBEBEB" stroke-width="1.2"/><line x1="459.4" y1="1821.66" x2="729" y2="1821.66" stroke="#EBEBEB" stroke-width="1.2"/><line x1="459.4" y1="1839.29" x2="729" y2="1839.29" stroke="#EBEBEB" stroke-width="1.2"/><line x1="459.4" y1="1856.92" x2="729" y2="1856.92" stroke="#EBEBEB" stroke-width="1.2"/><line x1="459.4" y1="1874.55" x2="729" y2="1874.55" stroke="#EBEBEB" stroke-width="1.2"/><line x1="459.4" y1="1892.18" x2="729" y2="1892.18" stroke="#EBEBEB" stroke-width="1.2"/><line x1="459.4" y1="1909.8" x2="729" y2="1909.8" stroke="#EBEBEB" stroke-width="1.2"/>
<rect x="469.7" y="1143.87" width="142.6" height="15.87" fill="#E7B173"/><rect x="489" y="1161.49" width="123.3" height="15.87" fill="#E7B173"/><rect x="494.2" y="1179.12" width="118.1" height="15.87" fill="#E7B173"/><rect x="492.9" y="1196.75" width="119.4" height="15.87" fill="#E7B173"/><rect x="506.4" y="1214.38" width="105.9" height="15.87" fill="#E7B173"/><rect x="478.4" y="1232.01" width="133.9" height="15.87" fill="#E7B173"/><rect x="506.4" y="1390.66" width="105.9" height="15.87" fill="#E7B173"/><rect x="612.3" y="1619.82" width="93.9" height="15.87" fill="#BDCBA0"/><rect x="612.3" y="1690.33" width="97.4" height="15.87" fill="#BDCBA0"/><rect x="612.3" y="1725.59" width="97.4" height="15.87" fill="#BDCBA0"/><rect x="612.3" y="1743.22" width="98.7" height="15.87" fill="#BDCBA0"/><rect x="612.3" y="1760.85" width="99.5" height="15.87" fill="#E7B173"/><rect x="612.3" y="1778.47" width="99.5" height="15.87" fill="#E7B173"/><rect x="612.3" y="1796.1" width="99.8" height="15.87" fill="#E7B173"/><rect x="612.3" y="1813.73" width="101.4" height="15.87" fill="#E7B173"/><rect x="612.3" y="1831.36" width="100.6" height="15.87" fill="#E7B173"/><rect x="612.3" y="1848.99" width="102.7" height="15.87" fill="#E7B173"/><rect x="612.3" y="1866.61" width="105.3" height="15.87" fill="#E7B173"/><rect x="612.3" y="1884.24" width="106" height="15.87" fill="#E7B173"/><rect x="612.3" y="1901.87" width="106.5" height="15.87" fill="#E7B173"/>
<rect x="458.35" y="1141.75" width="271.7" height="777.5" fill="none" stroke="#000" stroke-width="2.1"/>
<rect x="457.3" y="1138.7" width="273.8" height="4.1" fill="#000"/>
<text x="0" y="0" font-size="15.15" text-anchor="middle" dominant-baseline="central" fill="#4D4D4D" transform="translate(478,1931.8) rotate(-45)">−3</text>
<text x="0" y="0" font-size="15.15" text-anchor="middle" dominant-baseline="central" fill="#4D4D4D" transform="translate(524.3,1931.8) rotate(-45)">−2</text>
<text x="0" y="0" font-size="15.15" text-anchor="middle" dominant-baseline="central" fill="#4D4D4D" transform="translate(570.6,1931.8) rotate(-45)">−1</text>
<text x="0" y="0" font-size="15.15" text-anchor="middle" dominant-baseline="central" fill="#4D4D4D" transform="translate(616.9,1931.8) rotate(-45)">0</text>
<text x="0" y="0" font-size="15.15" text-anchor="middle" dominant-baseline="central" fill="#4D4D4D" transform="translate(663.2,1931.8) rotate(-45)">1</text>
<text x="0" y="0" font-size="15.15" text-anchor="middle" dominant-baseline="central" fill="#4D4D4D" transform="translate(709.5,1931.8) rotate(-45)">2</text>
<rect x="740.85" y="1111.85" width="271.8" height="27.9" fill="#CCCCCC" stroke="#000" stroke-width="2.1"/>
<text x="879.55" y="1132.4" font-size="18.3" font-weight="bold" text-anchor="middle" fill="#1A1A1A">S-Exo vs Normal</text>
<rect x="741.9" y="1142.8" width="269.7" height="775.4" fill="#FFFFFF"/>
<line x1="764.25" y1="1142.8" x2="764.25" y2="1918.2" stroke="#EBEBEB" stroke-width="1.2"/><line x1="854.35" y1="1142.8" x2="854.35" y2="1918.2" stroke="#EBEBEB" stroke-width="1.2"/><line x1="944.45" y1="1142.8" x2="944.45" y2="1918.2" stroke="#EBEBEB" stroke-width="1.2"/><line x1="809.3" y1="1142.8" x2="809.3" y2="1918.2" stroke="#EBEBEB" stroke-width="1.2"/><line x1="899.4" y1="1142.8" x2="899.4" y2="1918.2" stroke="#EBEBEB" stroke-width="1.2"/><line x1="989.5" y1="1142.8" x2="989.5" y2="1918.2" stroke="#EBEBEB" stroke-width="1.2"/><line x1="741.9" y1="1151.8" x2="1011.6" y2="1151.8" stroke="#EBEBEB" stroke-width="1.2"/><line x1="741.9" y1="1169.43" x2="1011.6" y2="1169.43" stroke="#EBEBEB" stroke-width="1.2"/><line x1="741.9" y1="1187.06" x2="1011.6" y2="1187.06" stroke="#EBEBEB" stroke-width="1.2"/><line x1="741.9" y1="1204.68" x2="1011.6" y2="1204.68" stroke="#EBEBEB" stroke-width="1.2"/><line x1="741.9" y1="1222.31" x2="1011.6" y2="1222.31" stroke="#EBEBEB" stroke-width="1.2"/><line x1="741.9" y1="1239.94" x2="1011.6" y2="1239.94" stroke="#EBEBEB" stroke-width="1.2"/><line x1="741.9" y1="1257.57" x2="1011.6" y2="1257.57" stroke="#EBEBEB" stroke-width="1.2"/><line x1="741.9" y1="1275.2" x2="1011.6" y2="1275.2" stroke="#EBEBEB" stroke-width="1.2"/><line x1="741.9" y1="1292.82" x2="1011.6" y2="1292.82" stroke="#EBEBEB" stroke-width="1.2"/><line x1="741.9" y1="1310.45" x2="1011.6" y2="1310.45" stroke="#EBEBEB" stroke-width="1.2"/><line x1="741.9" y1="1328.08" x2="1011.6" y2="1328.08" stroke="#EBEBEB" stroke-width="1.2"/><line x1="741.9" y1="1345.71" x2="1011.6" y2="1345.71" stroke="#EBEBEB" stroke-width="1.2"/><line x1="741.9" y1="1363.34" x2="1011.6" y2="1363.34" stroke="#EBEBEB" stroke-width="1.2"/><line x1="741.9" y1="1380.96" x2="1011.6" y2="1380.96" stroke="#EBEBEB" stroke-width="1.2"/><line x1="741.9" y1="1398.59" x2="1011.6" y2="1398.59" stroke="#EBEBEB" stroke-width="1.2"/><line x1="741.9" y1="1416.22" x2="1011.6" y2="1416.22" stroke="#EBEBEB" stroke-width="1.2"/><line x1="741.9" y1="1433.85" x2="1011.6" y2="1433.85" stroke="#EBEBEB" stroke-width="1.2"/><line x1="741.9" y1="1451.48" x2="1011.6" y2="1451.48" stroke="#EBEBEB" stroke-width="1.2"/><line x1="741.9" y1="1469.1" x2="1011.6" y2="1469.1" stroke="#EBEBEB" stroke-width="1.2"/><line x1="741.9" y1="1486.73" x2="1011.6" y2="1486.73" stroke="#EBEBEB" stroke-width="1.2"/><line x1="741.9" y1="1504.36" x2="1011.6" y2="1504.36" stroke="#EBEBEB" stroke-width="1.2"/><line x1="741.9" y1="1521.99" x2="1011.6" y2="1521.99" stroke="#EBEBEB" stroke-width="1.2"/><line x1="741.9" y1="1539.62" x2="1011.6" y2="1539.62" stroke="#EBEBEB" stroke-width="1.2"/><line x1="741.9" y1="1557.24" x2="1011.6" y2="1557.24" stroke="#EBEBEB" stroke-width="1.2"/><line x1="741.9" y1="1574.87" x2="1011.6" y2="1574.87" stroke="#EBEBEB" stroke-width="1.2"/><line x1="741.9" y1="1592.5" x2="1011.6" y2="1592.5" stroke="#EBEBEB" stroke-width="1.2"/><line x1="741.9" y1="1610.13" x2="1011.6" y2="1610.13" stroke="#EBEBEB" stroke-width="1.2"/><line x1="741.9" y1="1627.76" x2="1011.6" y2="1627.76" stroke="#EBEBEB" stroke-width="1.2"/><line x1="741.9" y1="1645.38" x2="1011.6" y2="1645.38" stroke="#EBEBEB" stroke-width="1.2"/><line x1="741.9" y1="1663.01" x2="1011.6" y2="1663.01" stroke="#EBEBEB" stroke-width="1.2"/><line x1="741.9" y1="1680.64" x2="1011.6" y2="1680.64" stroke="#EBEBEB" stroke-width="1.2"/><line x1="741.9" y1="1698.27" x2="1011.6" y2="1698.27" stroke="#EBEBEB" stroke-width="1.2"/><line x1="741.9" y1="1715.9" x2="1011.6" y2="1715.9" stroke="#EBEBEB" stroke-width="1.2"/><line x1="741.9" y1="1733.52" x2="1011.6" y2="1733.52" stroke="#EBEBEB" stroke-width="1.2"/><line x1="741.9" y1="1751.15" x2="1011.6" y2="1751.15" stroke="#EBEBEB" stroke-width="1.2"/><line x1="741.9" y1="1768.78" x2="1011.6" y2="1768.78" stroke="#EBEBEB" stroke-width="1.2"/><line x1="741.9" y1="1786.41" x2="1011.6" y2="1786.41" stroke="#EBEBEB" stroke-width="1.2"/><line x1="741.9" y1="1804.04" x2="1011.6" y2="1804.04" stroke="#EBEBEB" stroke-width="1.2"/><line x1="741.9" y1="1821.66" x2="1011.6" y2="1821.66" stroke="#EBEBEB" stroke-width="1.2"/><line x1="741.9" y1="1839.29" x2="1011.6" y2="1839.29" stroke="#EBEBEB" stroke-width="1.2"/><line x1="741.9" y1="1856.92" x2="1011.6" y2="1856.92" stroke="#EBEBEB" stroke-width="1.2"/><line x1="741.9" y1="1874.55" x2="1011.6" y2="1874.55" stroke="#EBEBEB" stroke-width="1.2"/><line x1="741.9" y1="1892.18" x2="1011.6" y2="1892.18" stroke="#EBEBEB" stroke-width="1.2"/><line x1="741.9" y1="1909.8" x2="1011.6" y2="1909.8" stroke="#EBEBEB" stroke-width="1.2"/>
<rect x="757.3" y="1143.87" width="142.1" height="15.87" fill="#E7B173"/><rect x="751.9" y="1161.49" width="147.5" height="15.87" fill="#E7B173"/><rect x="794.1" y="1179.12" width="105.3" height="15.87" fill="#E7B173"/><rect x="794.6" y="1196.75" width="104.8" height="15.87" fill="#E7B173"/><rect x="783.5" y="1232.01" width="115.9" height="15.87" fill="#E7B173"/><rect x="899.4" y="1461.17" width="86.7" height="15.87" fill="#BACDA2"/><rect x="899.4" y="1478.8" width="87" height="15.87" fill="#BACDA2"/><rect x="899.4" y="1549.31" width="88.2" height="15.87" fill="#BACDA2"/><rect x="899.4" y="1584.57" width="90.6" height="15.87" fill="#BACDA2"/><rect x="899.4" y="1619.82" width="87.1" height="15.87" fill="#BACDA2"/><rect x="899.4" y="1637.45" width="92.2" height="15.87" fill="#BACDA2"/><rect x="899.4" y="1672.7" width="94.2" height="15.87" fill="#BACDA2"/><rect x="899.4" y="1725.59" width="86.7" height="15.87" fill="#BACDA2"/><rect x="899.4" y="1743.22" width="95.8" height="15.87" fill="#E7B173"/><rect x="899.4" y="1760.85" width="86.7" height="15.87" fill="#BACDA2"/><rect x="899.4" y="1778.47" width="94.6" height="15.87" fill="#BACDA2"/><rect x="899.4" y="1796.1" width="91.1" height="15.87" fill="#BACDA2"/><rect x="899.4" y="1813.73" width="96.9" height="15.87" fill="#E7B173"/><rect x="899.4" y="1831.36" width="99.6" height="15.87" fill="#E7B173"/><rect x="899.4" y="1901.87" width="101.7" height="15.87" fill="#E7B173"/>
<rect x="740.85" y="1141.75" width="271.8" height="777.5" fill="none" stroke="#000" stroke-width="2.1"/>
<rect x="739.8" y="1138.7" width="273.9" height="4.1" fill="#000"/>
<text x="0" y="0" font-size="15.15" text-anchor="middle" dominant-baseline="central" fill="#4D4D4D" transform="translate(813.9,1931.8) rotate(-45)">−2</text>
<text x="0" y="0" font-size="15.15" text-anchor="middle" dominant-baseline="central" fill="#4D4D4D" transform="translate(904,1931.8) rotate(-45)">0</text>
<text x="0" y="0" font-size="15.15" text-anchor="middle" dominant-baseline="central" fill="#4D4D4D" transform="translate(994.1,1931.8) rotate(-45)">2</text>
<rect x="1023.45" y="1111.85" width="272" height="27.9" fill="#CCCCCC" stroke="#000" stroke-width="2.1"/>
<text x="1161.85" y="1132.4" font-size="18.3" font-weight="bold" text-anchor="middle" fill="#1A1A1A">S-Exo vs Control</text>
<rect x="1024.5" y="1142.8" width="269.9" height="775.4" fill="#FFFFFF"/>
<line x1="1063.9" y1="1142.8" x2="1063.9" y2="1918.2" stroke="#EBEBEB" stroke-width="1.2"/><line x1="1122.7" y1="1142.8" x2="1122.7" y2="1918.2" stroke="#EBEBEB" stroke-width="1.2"/><line x1="1181.5" y1="1142.8" x2="1181.5" y2="1918.2" stroke="#EBEBEB" stroke-width="1.2"/><line x1="1240.3" y1="1142.8" x2="1240.3" y2="1918.2" stroke="#EBEBEB" stroke-width="1.2"/><line x1="1034.5" y1="1142.8" x2="1034.5" y2="1918.2" stroke="#EBEBEB" stroke-width="1.2"/><line x1="1093.3" y1="1142.8" x2="1093.3" y2="1918.2" stroke="#EBEBEB" stroke-width="1.2"/><line x1="1152.1" y1="1142.8" x2="1152.1" y2="1918.2" stroke="#EBEBEB" stroke-width="1.2"/><line x1="1210.9" y1="1142.8" x2="1210.9" y2="1918.2" stroke="#EBEBEB" stroke-width="1.2"/><line x1="1269.7" y1="1142.8" x2="1269.7" y2="1918.2" stroke="#EBEBEB" stroke-width="1.2"/><line x1="1024.5" y1="1151.8" x2="1294.4" y2="1151.8" stroke="#EBEBEB" stroke-width="1.2"/><line x1="1024.5" y1="1169.43" x2="1294.4" y2="1169.43" stroke="#EBEBEB" stroke-width="1.2"/><line x1="1024.5" y1="1187.06" x2="1294.4" y2="1187.06" stroke="#EBEBEB" stroke-width="1.2"/><line x1="1024.5" y1="1204.68" x2="1294.4" y2="1204.68" stroke="#EBEBEB" stroke-width="1.2"/><line x1="1024.5" y1="1222.31" x2="1294.4" y2="1222.31" stroke="#EBEBEB" stroke-width="1.2"/><line x1="1024.5" y1="1239.94" x2="1294.4" y2="1239.94" stroke="#EBEBEB" stroke-width="1.2"/><line x1="1024.5" y1="1257.57" x2="1294.4" y2="1257.57" stroke="#EBEBEB" stroke-width="1.2"/><line x1="1024.5" y1="1275.2" x2="1294.4" y2="1275.2" stroke="#EBEBEB" stroke-width="1.2"/><line x1="1024.5" y1="1292.82" x2="1294.4" y2="1292.82" stroke="#EBEBEB" stroke-width="1.2"/><line x1="1024.5" y1="1310.45" x2="1294.4" y2="1310.45" stroke="#EBEBEB" stroke-width="1.2"/><line x1="1024.5" y1="1328.08" x2="1294.4" y2="1328.08" stroke="#EBEBEB" stroke-width="1.2"/><line x1="1024.5" y1="1345.71" x2="1294.4" y2="1345.71" stroke="#EBEBEB" stroke-width="1.2"/><line x1="1024.5" y1="1363.34" x2="1294.4" y2="1363.34" stroke="#EBEBEB" stroke-width="1.2"/><line x1="1024.5" y1="1380.96" x2="1294.4" y2="1380.96" stroke="#EBEBEB" stroke-width="1.2"/><line x1="1024.5" y1="1398.59" x2="1294.4" y2="1398.59" stroke="#EBEBEB" stroke-width="1.2"/><line x1="1024.5" y1="1416.22" x2="1294.4" y2="1416.22" stroke="#EBEBEB" stroke-width="1.2"/><line x1="1024.5" y1="1433.85" x2="1294.4" y2="1433.85" stroke="#EBEBEB" stroke-width="1.2"/><line x1="1024.5" y1="1451.48" x2="1294.4" y2="1451.48" stroke="#EBEBEB" stroke-width="1.2"/><line x1="1024.5" y1="1469.1" x2="1294.4" y2="1469.1" stroke="#EBEBEB" stroke-width="1.2"/><line x1="1024.5" y1="1486.73" x2="1294.4" y2="1486.73" stroke="#EBEBEB" stroke-width="1.2"/><line x1="1024.5" y1="1504.36" x2="1294.4" y2="1504.36" stroke="#EBEBEB" stroke-width="1.2"/><line x1="1024.5" y1="1521.99" x2="1294.4" y2="1521.99" stroke="#EBEBEB" stroke-width="1.2"/><line x1="1024.5" y1="1539.62" x2="1294.4" y2="1539.62" stroke="#EBEBEB" stroke-width="1.2"/><line x1="1024.5" y1="1557.24" x2="1294.4" y2="1557.24" stroke="#EBEBEB" stroke-width="1.2"/><line x1="1024.5" y1="1574.87" x2="1294.4" y2="1574.87" stroke="#EBEBEB" stroke-width="1.2"/><line x1="1024.5" y1="1592.5" x2="1294.4" y2="1592.5" stroke="#EBEBEB" stroke-width="1.2"/><line x1="1024.5" y1="1610.13" x2="1294.4" y2="1610.13" stroke="#EBEBEB" stroke-width="1.2"/><line x1="1024.5" y1="1627.76" x2="1294.4" y2="1627.76" stroke="#EBEBEB" stroke-width="1.2"/><line x1="1024.5" y1="1645.38" x2="1294.4" y2="1645.38" stroke="#EBEBEB" stroke-width="1.2"/><line x1="1024.5" y1="1663.01" x2="1294.4" y2="1663.01" stroke="#EBEBEB" stroke-width="1.2"/><line x1="1024.5" y1="1680.64" x2="1294.4" y2="1680.64" stroke="#EBEBEB" stroke-width="1.2"/><line x1="1024.5" y1="1698.27" x2="1294.4" y2="1698.27" stroke="#EBEBEB" stroke-width="1.2"/><line x1="1024.5" y1="1715.9" x2="1294.4" y2="1715.9" stroke="#EBEBEB" stroke-width="1.2"/><line x1="1024.5" y1="1733.52" x2="1294.4" y2="1733.52" stroke="#EBEBEB" stroke-width="1.2"/><line x1="1024.5" y1="1751.15" x2="1294.4" y2="1751.15" stroke="#EBEBEB" stroke-width="1.2"/><line x1="1024.5" y1="1768.78" x2="1294.4" y2="1768.78" stroke="#EBEBEB" stroke-width="1.2"/><line x1="1024.5" y1="1786.41" x2="1294.4" y2="1786.41" stroke="#EBEBEB" stroke-width="1.2"/><line x1="1024.5" y1="1804.04" x2="1294.4" y2="1804.04" stroke="#EBEBEB" stroke-width="1.2"/><line x1="1024.5" y1="1821.66" x2="1294.4" y2="1821.66" stroke="#EBEBEB" stroke-width="1.2"/><line x1="1024.5" y1="1839.29" x2="1294.4" y2="1839.29" stroke="#EBEBEB" stroke-width="1.2"/><line x1="1024.5" y1="1856.92" x2="1294.4" y2="1856.92" stroke="#EBEBEB" stroke-width="1.2"/><line x1="1024.5" y1="1874.55" x2="1294.4" y2="1874.55" stroke="#EBEBEB" stroke-width="1.2"/><line x1="1024.5" y1="1892.18" x2="1294.4" y2="1892.18" stroke="#EBEBEB" stroke-width="1.2"/><line x1="1024.5" y1="1909.8" x2="1294.4" y2="1909.8" stroke="#EBEBEB" stroke-width="1.2"/>
<rect x="1034.5" y="1232.01" width="208.6" height="15.87" fill="#AFD1AC"/><rect x="1034.5" y="1249.63" width="211.5" height="15.87" fill="#AFD1AC"/><rect x="1034.5" y="1267.26" width="213.3" height="15.87" fill="#AFD1AC"/><rect x="1034.5" y="1284.89" width="213.5" height="15.87" fill="#AFD1AC"/><rect x="1034.5" y="1302.52" width="214.3" height="15.87" fill="#AFD1AC"/><rect x="1034.5" y="1320.14" width="214.3" height="15.87" fill="#AFD1AC"/><rect x="1034.5" y="1337.77" width="214.6" height="15.87" fill="#AFD1AC"/><rect x="1034.5" y="1355.4" width="214.6" height="15.87" fill="#AFD1AC"/><rect x="1034.5" y="1373.03" width="215.1" height="15.87" fill="#AFD1AC"/><rect x="1034.5" y="1390.66" width="218.1" height="15.87" fill="#AFD1AC"/><rect x="1034.5" y="1408.29" width="220.1" height="15.87" fill="#AFD1AC"/><rect x="1034.5" y="1425.91" width="221.7" height="15.87" fill="#B4D0A8"/><rect x="1034.5" y="1443.54" width="227.6" height="15.87" fill="#B4D0A8"/><rect x="1034.5" y="1496.42" width="229.1" height="15.87" fill="#B4D0A8"/><rect x="1034.5" y="1514.05" width="229.6" height="15.87" fill="#B4D0A8"/><rect x="1034.5" y="1531.68" width="230.4" height="15.87" fill="#B4D0A8"/><rect x="1034.5" y="1566.94" width="232.5" height="15.87" fill="#B4D0A8"/><rect x="1034.5" y="1602.19" width="238.3" height="15.87" fill="#B4D0A8"/><rect x="1034.5" y="1655.08" width="245" height="15.87" fill="#E7B173"/><rect x="1034.5" y="1707.96" width="249.3" height="15.87" fill="#E7B173"/>
<rect x="1023.45" y="1141.75" width="272" height="777.5" fill="none" stroke="#000" stroke-width="2.1"/>
<rect x="1022.4" y="1138.7" width="274.1" height="4.1" fill="#000"/>
<text x="0" y="0" font-size="15.15" text-anchor="middle" dominant-baseline="central" fill="#4D4D4D" transform="translate(1039.1,1931.8) rotate(-45)">0.0</text>
<text x="0" y="0" font-size="15.15" text-anchor="middle" dominant-baseline="central" fill="#4D4D4D" transform="translate(1097.9,1931.8) rotate(-45)">0.5</text>
<text x="0" y="0" font-size="15.15" text-anchor="middle" dominant-baseline="central" fill="#4D4D4D" transform="translate(1156.7,1931.8) rotate(-45)">1.0</text>
<text x="0" y="0" font-size="15.15" text-anchor="middle" dominant-baseline="central" fill="#4D4D4D" transform="translate(1215.5,1931.8) rotate(-45)">1.5</text>
<text x="0" y="0" font-size="15.15" text-anchor="middle" dominant-baseline="central" fill="#4D4D4D" transform="translate(1274.3,1931.8) rotate(-45)">2.0</text>
<text x="449.3" y="1157.3" font-size="15.15" font-weight="bold" text-anchor="end" fill="#000">oxidative phosphorylation</text><text x="449.3" y="1174.93" font-size="15.15" font-weight="bold" text-anchor="end" fill="#000">ribosome</text><text x="449.3" y="1192.56" font-size="15.15" font-weight="bold" text-anchor="end" fill="#000">parkinson disease</text><text x="449.3" y="1210.18" font-size="15.15" font-weight="bold" text-anchor="end" fill="#000">non alcoholic fatty liver disease</text><text x="449.3" y="1227.81" font-size="15.15" font-weight="bold" text-anchor="end" fill="#000">propanoate metabolism</text><text x="449.3" y="1245.44" font-size="15.15" font-weight="bold" text-anchor="end" fill="#000">thermogenesis</text><text x="449.3" y="1263.07" font-size="15.15" font-weight="bold" text-anchor="end" fill="#000">glycolysis / gluconeogenesis</text><text x="449.3" y="1280.7" font-size="15.15" font-weight="bold" text-anchor="end" fill="#000">aldosterone regulated sodium reabsorption</text><text x="449.3" y="1298.32" font-size="15.15" font-weight="bold" text-anchor="end" fill="#000">ppar signaling pathway</text><text x="449.3" y="1315.95" font-size="15.15" font-weight="bold" text-anchor="end" fill="#000">starch and sucrose metabolism</text><text x="449.3" y="1333.58" font-size="15.15" font-weight="bold" text-anchor="end" fill="#000">adipocytokine signaling pathway</text><text x="449.3" y="1351.21" font-size="15.15" font-weight="bold" text-anchor="end" fill="#000">ampk signaling pathway</text><text x="449.3" y="1368.84" font-size="15.15" font-weight="bold" text-anchor="end" fill="#000">endocrine and other factor regulated calcium reabsorption</text><text x="449.3" y="1386.46" font-size="15.15" font-weight="bold" text-anchor="end" fill="#000">aldosterone synthesis and secretion</text><text x="449.3" y="1404.09" font-size="15.15" font-weight="bold" text-anchor="end" fill="#000">citrate cycle (tca cycle)</text><text x="449.3" y="1421.72" font-size="15.15" font-weight="bold" text-anchor="end" fill="#000">calcium signaling pathway</text><text x="449.3" y="1439.35" font-size="15.15" font-weight="bold" text-anchor="end" fill="#000">arrhythmogenic right ventricular cardiomyopathy</text><text x="449.3" y="1456.98" font-size="15.15" font-weight="bold" text-anchor="end" fill="#000">dilated cardiomyopathy</text><text x="449.3" y="1474.6" font-size="15.15" font-weight="bold" text-anchor="end" fill="#000">relaxin signaling pathway</text><text x="449.3" y="1492.23" font-size="15.15" font-weight="bold" text-anchor="end" fill="#000">inflammatory bowel disease</text><text x="449.3" y="1509.86" font-size="15.15" font-weight="bold" text-anchor="end" fill="#000">cgmp pkg signaling pathway</text><text x="449.3" y="1527.49" font-size="15.15" font-weight="bold" text-anchor="end" fill="#000">adrenergic signaling in cardiomyocytes</text><text x="449.3" y="1545.12" font-size="15.15" font-weight="bold" text-anchor="end" fill="#000">insulin signaling pathway</text><text x="449.3" y="1562.74" font-size="15.15" font-weight="bold" text-anchor="end" fill="#000">bacterial invasion of epithelial cells</text><text x="449.3" y="1580.37" font-size="15.15" font-weight="bold" text-anchor="end" fill="#000">cardiac muscle contraction</text><text x="449.3" y="1598" font-size="15.15" font-weight="bold" text-anchor="end" fill="#000">fc gamma r mediated phagocytosis</text><text x="449.3" y="1615.63" font-size="15.15" font-weight="bold" text-anchor="end" fill="#000">hypertrophic cardiomyopathy</text><text x="449.3" y="1633.26" font-size="15.15" font-weight="bold" text-anchor="end" fill="#000">tuberculosis</text><text x="449.3" y="1650.88" font-size="15.15" font-weight="bold" text-anchor="end" fill="#000">other types of o glycan biosynthesis</text><text x="449.3" y="1668.51" font-size="15.15" font-weight="bold" text-anchor="end" fill="#000">glucagon signaling pathway</text><text x="449.3" y="1686.14" font-size="15.15" font-weight="bold" text-anchor="end" fill="#000">focal adhesion</text><text x="449.3" y="1703.77" font-size="15.15" font-weight="bold" text-anchor="end" fill="#000">phagosome</text><text x="449.3" y="1721.4" font-size="15.15" font-weight="bold" text-anchor="end" fill="#000">insulin resistance</text><text x="449.3" y="1739.02" font-size="15.15" font-weight="bold" text-anchor="end" fill="#000">chemokine signaling pathway</text><text x="449.3" y="1756.65" font-size="15.15" font-weight="bold" text-anchor="end" fill="#000">protein digestion and absorption</text><text x="449.3" y="1774.28" font-size="15.15" font-weight="bold" text-anchor="end" fill="#000">hematopoietic cell lineage</text><text x="449.3" y="1791.91" font-size="15.15" font-weight="bold" text-anchor="end" fill="#000">amoebiasis</text><text x="449.3" y="1809.54" font-size="15.15" font-weight="bold" text-anchor="end" fill="#000">malaria</text><text x="449.3" y="1827.16" font-size="15.15" font-weight="bold" text-anchor="end" fill="#000">osteoclast differentiation</text><text x="449.3" y="1844.79" font-size="15.15" font-weight="bold" text-anchor="end" fill="#000">ecm receptor interaction</text><text x="449.3" y="1862.42" font-size="15.15" font-weight="bold" text-anchor="end" fill="#000">rheumatoid arthritis</text><text x="449.3" y="1880.05" font-size="15.15" font-weight="bold" text-anchor="end" fill="#000">viral protein interaction with cytokine and cytokine receptor</text><text x="449.3" y="1897.68" font-size="15.15" font-weight="bold" text-anchor="end" fill="#000">lysosome</text><text x="449.3" y="1915.3" font-size="15.15" font-weight="bold" text-anchor="end" fill="#000">leishmaniasis</text>
<text x="876.5" y="1969.3" font-size="16.85" font-weight="normal" text-anchor="middle" fill="#000">Normalized Enrichment Score (NES)</text>
<text x="18.3" y="1136.8" font-size="18.1" font-weight="normal" text-anchor="start" fill="#000">–log10(qval)</text>
<defs><linearGradient id="gC" x1="0" y1="0" x2="0" y2="1"><stop offset="0" stop-color="#E8AF6F"/><stop offset="0.5" stop-color="#CEC692"/><stop offset="1" stop-color="#A8D0A9"/></linearGradient></defs>
<rect x="17.8" y="1157" width="26.2" height="131.2" fill="url(#gC)"/>
<line x1="38.4" y1="1157.3" x2="44" y2="1157.3" stroke="#FFFFFF" stroke-width="1.1"/>
<text x="53" y="1162.1" font-size="14.4" font-weight="normal" text-anchor="start" fill="#000">10</text>
<line x1="38.4" y1="1190.8" x2="44" y2="1190.8" stroke="#FFFFFF" stroke-width="1.1"/>
<text x="53" y="1195.6" font-size="14.4" font-weight="normal" text-anchor="start" fill="#000">8</text>
<line x1="38.4" y1="1224.7" x2="44" y2="1224.7" stroke="#FFFFFF" stroke-width="1.1"/>
<text x="53" y="1229.5" font-size="14.4" font-weight="normal" text-anchor="start" fill="#000">6</text>
<line x1="38.4" y1="1258.2" x2="44" y2="1258.2" stroke="#FFFFFF" stroke-width="1.1"/>
<text x="53" y="1263" font-size="14.4" font-weight="normal" text-anchor="start" fill="#000">4</text>
<text x="1560" y="125.8" font-size="18.4" font-weight="bold" text-anchor="middle" fill="#000">glycolysis / gluconeogenesis</text>
<rect x="1382.6" y="138.2" width="372" height="152.3" fill="#FFFFFF"/>
<line x1="1382.6" y1="283.5" x2="1754.6" y2="283.5" stroke="#F2F2F2" stroke-width="0.8"/><line x1="1382.6" y1="253.9" x2="1754.6" y2="253.9" stroke="#F2F2F2" stroke-width="0.8"/><line x1="1382.6" y1="224.9" x2="1754.6" y2="224.9" stroke="#F2F2F2" stroke-width="0.8"/><line x1="1382.6" y1="195.7" x2="1754.6" y2="195.7" stroke="#F2F2F2" stroke-width="0.8"/><line x1="1382.6" y1="166.3" x2="1754.6" y2="166.3" stroke="#F2F2F2" stroke-width="0.8"/><line x1="1423.35" y1="138.2" x2="1423.35" y2="290.5" stroke="#EBEBEB" stroke-width="0.9"/><line x1="1464.2" y1="138.2" x2="1464.2" y2="290.5" stroke="#EBEBEB" stroke-width="0.9"/><line x1="1505.05" y1="138.2" x2="1505.05" y2="290.5" stroke="#EBEBEB" stroke-width="0.9"/><line x1="1545.9" y1="138.2" x2="1545.9" y2="290.5" stroke="#EBEBEB" stroke-width="0.9"/><line x1="1586.75" y1="138.2" x2="1586.75" y2="290.5" stroke="#EBEBEB" stroke-width="0.9"/><line x1="1627.6" y1="138.2" x2="1627.6" y2="290.5" stroke="#EBEBEB" stroke-width="0.9"/><line x1="1668.45" y1="138.2" x2="1668.45" y2="290.5" stroke="#EBEBEB" stroke-width="0.9"/><line x1="1709.3" y1="138.2" x2="1709.3" y2="290.5" stroke="#EBEBEB" stroke-width="0.9"/><line x1="1750.15" y1="138.2" x2="1750.15" y2="290.5" stroke="#EBEBEB" stroke-width="0.9"/><line x1="1382.6" y1="268.8" x2="1754.6" y2="268.8" stroke="#EBEBEB" stroke-width="0.9"/><line x1="1382.6" y1="239.5" x2="1754.6" y2="239.5" stroke="#EBEBEB" stroke-width="0.9"/><line x1="1382.6" y1="210.4" x2="1754.6" y2="210.4" stroke="#EBEBEB" stroke-width="0.9"/><line x1="1382.6" y1="180.9" x2="1754.6" y2="180.9" stroke="#EBEBEB" stroke-width="0.9"/><line x1="1382.6" y1="151.6" x2="1754.6" y2="151.6" stroke="#EBEBEB" stroke-width="0.9"/>
<line x1="1382.6" y1="144.9" x2="1754.6" y2="144.9" stroke="#A6A6A6" stroke-width="0.9" stroke-dasharray="3.6,3.2"/>
<line x1="1447.6" y1="138.2" x2="1447.6" y2="290.5" stroke="#A6A6A6" stroke-width="0.9" stroke-dasharray="3.6,3.2"/>
<polyline points="1382.7,268.5 1388.4,273.3 1388.6,261 1399.8,269.9 1400.2,261.5 1401.4,262.1 1402,254 1404.4,255.8 1405.7,216.5 1407,217.4 1408.1,203.1 1409.2,203.6 1410,196.7 1411.1,183.3 1413.8,184.9 1414.1,178.4 1415.4,179.5 1415.9,173.1 1416.9,172 1417.7,161.3 1422.9,165 1423.4,159.4 1424.5,160.4 1425,154.8 1428.8,157.7 1429,152.2 1431.5,154.3 1432,149.5 1437.9,154.3 1438.4,145.5 1446.5,151.6 1447.6,144.9 1469.5,161.8 1470.6,159.5 1472.2,158.4 1473,159.2 1474.4,157.6 1477,160.2 1479.7,157.3 1482.9,158.4 1492.6,166.1 1494.2,162.7 1500.1,167 1501.5,165.8 1503.3,165.9 1508.1,167.2 1513,170.4 1581.3,223.9 1582.4,223.2 1584.2,223.5 1585.2,222.9 1598.8,234.8 1599.4,233 1611.4,242.5 1612,240.3 1625.7,251.3 1626.2,248.3 1666.2,280.1 1666.5,275.7 1672.7,280.4 1673.3,270.8 1677.7,274 1678.2,269.1 1688.1,277.1 1688.6,271.9 1691.7,274 1692.1,268 1697.9,272.7 1698.5,266.2 1720.4,283.9 1721.5,258.7 1748.3,279.5 1748.6,263.1 1754.5,268" fill="none" stroke="#9F4D07" stroke-width="1.65" stroke-linejoin="miter" stroke-miterlimit="3"/>
<text x="1620.7" y="157.4" font-size="9.9" font-weight="bold" text-anchor="start" fill="#9C9C9C">ES = 0.42341217</text>
<text x="1620.7" y="172.8" font-size="9.9" font-weight="bold" text-anchor="start" fill="#9C9C9C">P Value = 0.0037593986;</text>
<text x="1620.7" y="184.3" font-size="9.9" font-weight="bold" text-anchor="start" fill="#9C9C9C">FDR Value = 0.038616072</text>
<rect x="1382.6" y="138.2" width="372" height="152.3" fill="none" stroke="#9A9A9A" stroke-width="1.1"/>
<line x1="1380.4" y1="268.8" x2="1382.6" y2="268.8" stroke="#333" stroke-width="0.9"/>
<text x="1379.4" y="272.9" font-size="10" font-weight="normal" text-anchor="end" fill="#1A1A1A">0.0</text>
<line x1="1380.4" y1="239.5" x2="1382.6" y2="239.5" stroke="#333" stroke-width="0.9"/>
<text x="1379.4" y="243.6" font-size="10" font-weight="normal" text-anchor="end" fill="#1A1A1A">0.1</text>
<line x1="1380.4" y1="210.4" x2="1382.6" y2="210.4" stroke="#333" stroke-width="0.9"/>
<text x="1379.4" y="214.5" font-size="10" font-weight="normal" text-anchor="end" fill="#1A1A1A">0.2</text>
<line x1="1380.4" y1="180.9" x2="1382.6" y2="180.9" stroke="#333" stroke-width="0.9"/>
<text x="1379.4" y="185" font-size="10" font-weight="normal" text-anchor="end" fill="#1A1A1A">0.3</text>
<line x1="1380.4" y1="151.6" x2="1382.6" y2="151.6" stroke="#333" stroke-width="0.9"/>
<text x="1379.4" y="155.7" font-size="10" font-weight="normal" text-anchor="end" fill="#1A1A1A">0.4</text>
<text x="0" y="0" font-size="11.9" font-weight="bold" text-anchor="middle" fill="#000" transform="translate(1350.6,213.8) rotate(-90)">Running Enrichment Score</text>
<rect x="1382.6" y="293.4" width="372" height="50.6" fill="#FFFFFF"/>
<rect x="1382.6" y="328.9" width="6.5" height="15.1" fill="#82502A"/><rect x="1388.8" y="328.9" width="70.2" height="15.1" fill="#A0602A"/><rect x="1458.7" y="328.9" width="94" height="15.1" fill="#C88537"/><rect x="1552.4" y="328.9" width="82" height="15.1" fill="#E2AA5F"/><rect x="1634.1" y="328.9" width="24.4" height="15.1" fill="#F0D29E"/><rect x="1658.2" y="328.9" width="41.4" height="15.1" fill="#D9CBC4"/><rect x="1699.3" y="328.9" width="21.9" height="15.1" fill="#A49DC9"/><rect x="1720.9" y="328.9" width="9.6" height="15.1" fill="#7B6BAD"/><rect x="1730.2" y="328.9" width="18.7" height="15.1" fill="#583C8C"/><rect x="1748.6" y="328.9" width="6.3" height="15.1" fill="#3C1E64"/>
<line x1="1388.5" y1="293.4" x2="1388.5" y2="328.9" stroke="#1A1A1A" stroke-width="1.0"/><line x1="1388.5" y1="328.9" x2="1388.5" y2="344" stroke="#000" stroke-opacity="0.17" stroke-width="0.9"/><line x1="1399.5" y1="293.4" x2="1399.5" y2="328.9" stroke="#1A1A1A" stroke-width="1.0"/><line x1="1399.5" y1="328.9" x2="1399.5" y2="344" stroke="#000" stroke-opacity="0.17" stroke-width="0.9"/><line x1="1400.5" y1="293.4" x2="1400.5" y2="328.9" stroke="#1A1A1A" stroke-width="1.0"/><line x1="1400.5" y1="328.9" x2="1400.5" y2="344" stroke="#000" stroke-opacity="0.17" stroke-width="0.9"/><line x1="1401.5" y1="293.4" x2="1401.5" y2="328.9" stroke="#1A1A1A" stroke-width="1.0"/><line x1="1401.5" y1="328.9" x2="1401.5" y2="344" stroke="#000" stroke-opacity="0.17" stroke-width="0.9"/><line x1="1404.5" y1="293.4" x2="1404.5" y2="328.9" stroke="#1A1A1A" stroke-width="1.0"/><line x1="1404.5" y1="328.9" x2="1404.5" y2="344" stroke="#000" stroke-opacity="0.17" stroke-width="0.9"/><line x1="1407.5" y1="293.4" x2="1407.5" y2="328.9" stroke="#1A1A1A" stroke-width="1.0"/><line x1="1407.5" y1="328.9" x2="1407.5" y2="344" stroke="#000" stroke-opacity="0.17" stroke-width="0.9"/><line x1="1408.5" y1="293.4" x2="1408.5" y2="328.9" stroke="#1A1A1A" stroke-width="1.0"/><line x1="1408.5" y1="328.9" x2="1408.5" y2="344" stroke="#000" stroke-opacity="0.17" stroke-width="0.9"/><line x1="1409.5" y1="293.4" x2="1409.5" y2="328.9" stroke="#1A1A1A" stroke-width="1.0"/><line x1="1409.5" y1="328.9" x2="1409.5" y2="344" stroke="#000" stroke-opacity="0.17" stroke-width="0.9"/><line x1="1410.5" y1="293.4" x2="1410.5" y2="328.9" stroke="#1A1A1A" stroke-width="1.0"/><line x1="1410.5" y1="328.9" x2="1410.5" y2="344" stroke="#000" stroke-opacity="0.17" stroke-width="0.9"/><line x1="1411.5" y1="293.4" x2="1411.5" y2="328.9" stroke="#1A1A1A" stroke-width="1.0"/><line x1="1411.5" y1="328.9" x2="1411.5" y2="344" stroke="#000" stroke-opacity="0.17" stroke-width="0.9"/><line x1="1413.5" y1="293.4" x2="1413.5" y2="328.9" stroke="#1A1A1A" stroke-width="1.0"/><line x1="1413.5" y1="328.9" x2="1413.5" y2="344" stroke="#000" stroke-opacity="0.17" stroke-width="0.9"/><line x1="1414.5" y1="293.4" x2="1414.5" y2="328.9" stroke="#1A1A1A" stroke-width="1.0"/><line x1="1414.5" y1="328.9" x2="1414.5" y2="344" stroke="#000" stroke-opacity="0.17" stroke-width="0.9"/><line x1="1416.5" y1="293.4" x2="1416.5" y2="328.9" stroke="#1A1A1A" stroke-width="1.0"/><line x1="1416.5" y1="328.9" x2="1416.5" y2="344" stroke="#000" stroke-opacity="0.17" stroke-width="0.9"/><line x1="1416.5" y1="293.4" x2="1416.5" y2="328.9" stroke="#1A1A1A" stroke-width="1.0"/><line x1="1416.5" y1="328.9" x2="1416.5" y2="344" stroke="#000" stroke-opacity="0.17" stroke-width="0.9"/><line x1="1418.5" y1="293.4" x2="1418.5" y2="328.9" stroke="#1A1A1A" stroke-width="1.0"/><line x1="1418.5" y1="328.9" x2="1418.5" y2="344" stroke="#000" stroke-opacity="0.17" stroke-width="0.9"/><line x1="1422.5" y1="293.4" x2="1422.5" y2="328.9" stroke="#1A1A1A" stroke-width="1.0"/><line x1="1422.5" y1="328.9" x2="1422.5" y2="344" stroke="#000" stroke-opacity="0.17" stroke-width="0.9"/><line x1="1423.5" y1="293.4" x2="1423.5" y2="328.9" stroke="#1A1A1A" stroke-width="1.0"/><line x1="1423.5" y1="328.9" x2="1423.5" y2="344" stroke="#000" stroke-opacity="0.17" stroke-width="0.9"/><line x1="1424.5" y1="293.4" x2="1424.5" y2="328.9" stroke="#1A1A1A" stroke-width="1.0"/><line x1="1424.5" y1="328.9" x2="1424.5" y2="344" stroke="#000" stroke-opacity="0.17" stroke-width="0.9"/><line x1="1425.5" y1="293.4" x2="1425.5" y2="328.9" stroke="#1A1A1A" stroke-width="1.0"/><line x1="1425.5" y1="328.9" x2="1425.5" y2="344" stroke="#000" stroke-opacity="0.17" stroke-width="0.9"/><line x1="1428.5" y1="293.4" x2="1428.5" y2="328.9" stroke="#1A1A1A" stroke-width="1.0"/><line x1="1428.5" y1="328.9" x2="1428.5" y2="344" stroke="#000" stroke-opacity="0.17" stroke-width="0.9"/><line x1="1431.5" y1="293.4" x2="1431.5" y2="328.9" stroke="#1A1A1A" stroke-width="1.0"/><line x1="1431.5" y1="328.9" x2="1431.5" y2="344" stroke="#000" stroke-opacity="0.17" stroke-width="0.9"/><line x1="1437.5" y1="293.4" x2="1437.5" y2="328.9" stroke="#1A1A1A" stroke-width="1.0"/><line x1="1437.5" y1="328.9" x2="1437.5" y2="344" stroke="#000" stroke-opacity="0.17" stroke-width="0.9"/><line x1="1447.5" y1="293.4" x2="1447.5" y2="328.9" stroke="#1A1A1A" stroke-width="1.0"/><line x1="1447.5" y1="328.9" x2="1447.5" y2="344" stroke="#000" stroke-opacity="0.17" stroke-width="0.9"/><line x1="1470.5" y1="293.4" x2="1470.5" y2="328.9" stroke="#1A1A1A" stroke-width="1.0"/><line x1="1470.5" y1="328.9" x2="1470.5" y2="344" stroke="#000" stroke-opacity="0.17" stroke-width="0.9"/><line x1="1471.5" y1="293.4" x2="1471.5" y2="328.9" stroke="#1A1A1A" stroke-width="1.0"/><line x1="1471.5" y1="328.9" x2="1471.5" y2="344" stroke="#000" stroke-opacity="0.17" stroke-width="0.9"/><line x1="1472.5" y1="293.4" x2="1472.5" y2="328.9" stroke="#1A1A1A" stroke-width="1.0"/><line x1="1472.5" y1="328.9" x2="1472.5" y2="344" stroke="#000" stroke-opacity="0.17" stroke-width="0.9"/><line x1="1474.5" y1="293.4" x2="1474.5" y2="328.9" stroke="#1A1A1A" stroke-width="1.0"/><line x1="1474.5" y1="328.9" x2="1474.5" y2="344" stroke="#000" stroke-opacity="0.17" stroke-width="0.9"/><line x1="1477.5" y1="293.4" x2="1477.5" y2="328.9" stroke="#1A1A1A" stroke-width="1.0"/><line x1="1477.5" y1="328.9" x2="1477.5" y2="344" stroke="#000" stroke-opacity="0.17" stroke-width="0.9"/><line x1="1478.5" y1="293.4" x2="1478.5" y2="328.9" stroke="#1A1A1A" stroke-width="1.0"/><line x1="1478.5" y1="328.9" x2="1478.5" y2="344" stroke="#000" stroke-opacity="0.17" stroke-width="0.9"/><line x1="1479.5" y1="293.4" x2="1479.5" y2="328.9" stroke="#1A1A1A" stroke-width="1.0"/><line x1="1479.5" y1="328.9" x2="1479.5" y2="344" stroke="#000" stroke-opacity="0.17" stroke-width="0.9"/><line x1="1482.5" y1="293.4" x2="1482.5" y2="328.9" stroke="#1A1A1A" stroke-width="1.0"/><line x1="1482.5" y1="328.9" x2="1482.5" y2="344" stroke="#000" stroke-opacity="0.17" stroke-width="0.9"/><line x1="1493.5" y1="293.4" x2="1493.5" y2="328.9" stroke="#1A1A1A" stroke-width="1.0"/><line x1="1493.5" y1="328.9" x2="1493.5" y2="344" stroke="#000" stroke-opacity="0.17" stroke-width="0.9"/><line x1="1500.5" y1="293.4" x2="1500.5" y2="328.9" stroke="#1A1A1A" stroke-width="1.0"/><line x1="1500.5" y1="328.9" x2="1500.5" y2="344" stroke="#000" stroke-opacity="0.17" stroke-width="0.9"/><line x1="1502.5" y1="293.4" x2="1502.5" y2="328.9" stroke="#1A1A1A" stroke-width="1.0"/><line x1="1502.5" y1="328.9" x2="1502.5" y2="344" stroke="#000" stroke-opacity="0.17" stroke-width="0.9"/><line x1="1503.5" y1="293.4" x2="1503.5" y2="328.9" stroke="#1A1A1A" stroke-width="1.0"/><line x1="1503.5" y1="328.9" x2="1503.5" y2="344" stroke="#000" stroke-opacity="0.17" stroke-width="0.9"/><line x1="1505.5" y1="293.4" x2="1505.5" y2="328.9" stroke="#1A1A1A" stroke-width="1.0"/><line x1="1505.5" y1="328.9" x2="1505.5" y2="344" stroke="#000" stroke-opacity="0.17" stroke-width="0.9"/><line x1="1507.5" y1="293.4" x2="1507.5" y2="328.9" stroke="#1A1A1A" stroke-width="1.0"/><line x1="1507.5" y1="328.9" x2="1507.5" y2="344" stroke="#000" stroke-opacity="0.17" stroke-width="0.9"/><line x1="1512.5" y1="293.4" x2="1512.5" y2="328.9" stroke="#1A1A1A" stroke-width="1.0"/><line x1="1512.5" y1="328.9" x2="1512.5" y2="344" stroke="#000" stroke-opacity="0.17" stroke-width="0.9"/><line x1="1541.5" y1="293.4" x2="1541.5" y2="328.9" stroke="#1A1A1A" stroke-width="1.0"/><line x1="1541.5" y1="328.9" x2="1541.5" y2="344" stroke="#000" stroke-opacity="0.17" stroke-width="0.9"/><line x1="1548.5" y1="293.4" x2="1548.5" y2="328.9" stroke="#1A1A1A" stroke-width="1.0"/><line x1="1548.5" y1="328.9" x2="1548.5" y2="344" stroke="#000" stroke-opacity="0.17" stroke-width="0.9"/><line x1="1582.5" y1="293.4" x2="1582.5" y2="328.9" stroke="#1A1A1A" stroke-width="1.0"/><line x1="1582.5" y1="328.9" x2="1582.5" y2="344" stroke="#000" stroke-opacity="0.17" stroke-width="0.9"/><line x1="1585.5" y1="293.4" x2="1585.5" y2="328.9" stroke="#1A1A1A" stroke-width="1.0"/><line x1="1585.5" y1="328.9" x2="1585.5" y2="344" stroke="#000" stroke-opacity="0.17" stroke-width="0.9"/><line x1="1599.5" y1="293.4" x2="1599.5" y2="328.9" stroke="#1A1A1A" stroke-width="1.0"/><line x1="1599.5" y1="328.9" x2="1599.5" y2="344" stroke="#000" stroke-opacity="0.17" stroke-width="0.9"/><line x1="1612.5" y1="293.4" x2="1612.5" y2="328.9" stroke="#1A1A1A" stroke-width="1.0"/><line x1="1612.5" y1="328.9" x2="1612.5" y2="344" stroke="#000" stroke-opacity="0.17" stroke-width="0.9"/><line x1="1626.5" y1="293.4" x2="1626.5" y2="328.9" stroke="#1A1A1A" stroke-width="1.0"/><line x1="1626.5" y1="328.9" x2="1626.5" y2="344" stroke="#000" stroke-opacity="0.17" stroke-width="0.9"/><line x1="1666.5" y1="293.4" x2="1666.5" y2="328.9" stroke="#1A1A1A" stroke-width="1.0"/><line x1="1666.5" y1="328.9" x2="1666.5" y2="344" stroke="#000" stroke-opacity="0.17" stroke-width="0.9"/><line x1="1673.5" y1="293.4" x2="1673.5" y2="328.9" stroke="#1A1A1A" stroke-width="1.0"/><line x1="1673.5" y1="328.9" x2="1673.5" y2="344" stroke="#000" stroke-opacity="0.17" stroke-width="0.9"/><line x1="1678.5" y1="293.4" x2="1678.5" y2="328.9" stroke="#1A1A1A" stroke-width="1.0"/><line x1="1678.5" y1="328.9" x2="1678.5" y2="344" stroke="#000" stroke-opacity="0.17" stroke-width="0.9"/><line x1="1688.5" y1="293.4" x2="1688.5" y2="328.9" stroke="#1A1A1A" stroke-width="1.0"/><line x1="1688.5" y1="328.9" x2="1688.5" y2="344" stroke="#000" stroke-opacity="0.17" stroke-width="0.9"/><line x1="1692.5" y1="293.4" x2="1692.5" y2="328.9" stroke="#1A1A1A" stroke-width="1.0"/><line x1="1692.5" y1="328.9" x2="1692.5" y2="344" stroke="#000" stroke-opacity="0.17" stroke-width="0.9"/><line x1="1698.5" y1="293.4" x2="1698.5" y2="328.9" stroke="#1A1A1A" stroke-width="1.0"/><line x1="1698.5" y1="328.9" x2="1698.5" y2="344" stroke="#000" stroke-opacity="0.17" stroke-width="0.9"/><line x1="1721.5" y1="293.4" x2="1721.5" y2="328.9" stroke="#1A1A1A" stroke-width="1.0"/><line x1="1721.5" y1="328.9" x2="1721.5" y2="344" stroke="#000" stroke-opacity="0.17" stroke-width="0.9"/><line x1="1748.5" y1="293.4" x2="1748.5" y2="328.9" stroke="#1A1A1A" stroke-width="1.0"/><line x1="1748.5" y1="328.9" x2="1748.5" y2="344" stroke="#000" stroke-opacity="0.17" stroke-width="0.9"/>
<rect x="1382.6" y="293.4" width="372" height="50.6" fill="none" stroke="#9A9A9A" stroke-width="1.0"/>
<text x="1568.8" y="361" font-size="12" font-weight="bold" text-anchor="middle" fill="#000">Rank in Ordered Dataset</text>
<text x="1561.5" y="399.3" font-size="18.4" font-weight="bold" text-anchor="middle" fill="#000">citrate cycle (tca cycle)</text>
<rect x="1382.1" y="414.1" width="372.5" height="152.5" fill="#FFFFFF"/>
<line x1="1382.1" y1="534.4" x2="1754.6" y2="534.4" stroke="#F2F2F2" stroke-width="0.8"/><line x1="1382.1" y1="488.8" x2="1754.6" y2="488.8" stroke="#F2F2F2" stroke-width="0.8"/><line x1="1382.1" y1="444.3" x2="1754.6" y2="444.3" stroke="#F2F2F2" stroke-width="0.8"/><line x1="1422.8" y1="414.1" x2="1422.8" y2="566.6" stroke="#EBEBEB" stroke-width="0.9"/><line x1="1463.5" y1="414.1" x2="1463.5" y2="566.6" stroke="#EBEBEB" stroke-width="0.9"/><line x1="1504.2" y1="414.1" x2="1504.2" y2="566.6" stroke="#EBEBEB" stroke-width="0.9"/><line x1="1544.9" y1="414.1" x2="1544.9" y2="566.6" stroke="#EBEBEB" stroke-width="0.9"/><line x1="1585.6" y1="414.1" x2="1585.6" y2="566.6" stroke="#EBEBEB" stroke-width="0.9"/><line x1="1626.3" y1="414.1" x2="1626.3" y2="566.6" stroke="#EBEBEB" stroke-width="0.9"/><line x1="1667" y1="414.1" x2="1667" y2="566.6" stroke="#EBEBEB" stroke-width="0.9"/><line x1="1707.7" y1="414.1" x2="1707.7" y2="566.6" stroke="#EBEBEB" stroke-width="0.9"/><line x1="1748.4" y1="414.1" x2="1748.4" y2="566.6" stroke="#EBEBEB" stroke-width="0.9"/><line x1="1382.1" y1="556.4" x2="1754.6" y2="556.4" stroke="#EBEBEB" stroke-width="0.9"/><line x1="1382.1" y1="511.3" x2="1754.6" y2="511.3" stroke="#EBEBEB" stroke-width="0.9"/><line x1="1382.1" y1="466.5" x2="1754.6" y2="466.5" stroke="#EBEBEB" stroke-width="0.9"/><line x1="1382.1" y1="420.7" x2="1754.6" y2="420.7" stroke="#EBEBEB" stroke-width="0.9"/>
<line x1="1382.1" y1="421" x2="1754.6" y2="421" stroke="#A6A6A6" stroke-width="0.9" stroke-dasharray="3.6,3.2"/>
<line x1="1502.4" y1="414.1" x2="1502.4" y2="566.6" stroke="#A6A6A6" stroke-width="0.9" stroke-dasharray="3.6,3.2"/>
<polyline points="1382.1,556.4 1387.9,560.1 1388.2,534.4 1391.9,536.5 1392.5,514.5 1401.1,519.6 1401.4,501.7 1409.8,507 1410.2,476.5 1422.3,483.5 1422.8,471.1 1423.4,459.1 1432.4,464.5 1432.7,454 1438.8,457.7 1439.1,448.6 1440,447.5 1440.7,439.8 1450.7,445.9 1451.2,438.4 1454.1,440 1454.7,432.7 1460.6,436.3 1461.1,429.8 1471.8,436.8 1472.4,431.4 1476.1,433.8 1476.6,429.3 1481.8,432.5 1482.5,427.7 1483.6,425 1485,421.6 1490,424.8 1490.6,421.3 1495.4,424.5 1495.9,421.6 1497.5,422 1499.7,423.9 1500.2,421.3 1502.4,420.7 1505.1,422.9 1506.7,420.7 1527.6,433.6 1552.8,448.1 1554,447.4 1611.4,482.8 1612,477.3 1638.3,493.8 1638.8,486.4 1754.3,556.2" fill="none" stroke="#9F4D07" stroke-width="1.65" stroke-linejoin="miter" stroke-miterlimit="3"/>
<text x="1625.7" y="437.9" font-size="9.9" font-weight="bold" text-anchor="start" fill="#9C9C9C">ES = 0.60407</text>
<text x="1625.7" y="448.9" font-size="9.9" font-weight="bold" text-anchor="start" fill="#9C9C9C">P Value = 0;</text>
<text x="1625.7" y="460.9" font-size="9.9" font-weight="bold" text-anchor="start" fill="#9C9C9C">FDR Value = 0.0061425827</text>
<rect x="1382.1" y="414.1" width="372.5" height="152.5" fill="none" stroke="#9A9A9A" stroke-width="1.1"/>
<line x1="1379.9" y1="556.4" x2="1382.1" y2="556.4" stroke="#333" stroke-width="0.9"/>
<text x="1378.9" y="560.5" font-size="10" font-weight="normal" text-anchor="end" fill="#1A1A1A">0.0</text>
<line x1="1379.9" y1="511.3" x2="1382.1" y2="511.3" stroke="#333" stroke-width="0.9"/>
<text x="1378.9" y="515.4" font-size="10" font-weight="normal" text-anchor="end" fill="#1A1A1A">0.2</text>
<line x1="1379.9" y1="466.5" x2="1382.1" y2="466.5" stroke="#333" stroke-width="0.9"/>
<text x="1378.9" y="470.6" font-size="10" font-weight="normal" text-anchor="end" fill="#1A1A1A">0.4</text>
<line x1="1379.9" y1="420.7" x2="1382.1" y2="420.7" stroke="#333" stroke-width="0.9"/>
<text x="1378.9" y="424.8" font-size="10" font-weight="normal" text-anchor="end" fill="#1A1A1A">0.6</text>
<text x="0" y="0" font-size="11.9" font-weight="bold" text-anchor="middle" fill="#000" transform="translate(1350,489.9) rotate(-90)">Running Enrichment Score</text>
<rect x="1382.1" y="569.6" width="372.5" height="50.4" fill="#FFFFFF"/>
<rect x="1382.1" y="605.3" width="115.9" height="14.7" fill="#7D4B28"/><rect x="1497.7" y="605.3" width="96.5" height="14.7" fill="#A0602A"/><rect x="1593.9" y="605.3" width="40.3" height="14.7" fill="#C88537"/><rect x="1633.9" y="605.3" width="18.3" height="14.7" fill="#E2AA5F"/><rect x="1651.9" y="605.3" width="8.8" height="14.7" fill="#F0D29E"/><rect x="1660.4" y="605.3" width="22.5" height="14.7" fill="#D9CBC4"/><rect x="1682.6" y="605.3" width="22.2" height="14.7" fill="#A49DC9"/><rect x="1704.5" y="605.3" width="22.7" height="14.7" fill="#7B6BAD"/><rect x="1726.9" y="605.3" width="22.4" height="14.7" fill="#583C8C"/><rect x="1749" y="605.3" width="5.9" height="14.7" fill="#3C1E64"/>
<line x1="1388.5" y1="569.6" x2="1388.5" y2="605.3" stroke="#1A1A1A" stroke-width="1.0"/><line x1="1388.5" y1="605.3" x2="1388.5" y2="620" stroke="#000" stroke-opacity="0.17" stroke-width="0.9"/><line x1="1392.5" y1="569.6" x2="1392.5" y2="605.3" stroke="#1A1A1A" stroke-width="1.0"/><line x1="1392.5" y1="605.3" x2="1392.5" y2="620" stroke="#000" stroke-opacity="0.17" stroke-width="0.9"/><line x1="1401.5" y1="569.6" x2="1401.5" y2="605.3" stroke="#1A1A1A" stroke-width="1.0"/><line x1="1401.5" y1="605.3" x2="1401.5" y2="620" stroke="#000" stroke-opacity="0.17" stroke-width="0.9"/><line x1="1410.5" y1="569.6" x2="1410.5" y2="605.3" stroke="#1A1A1A" stroke-width="1.0"/><line x1="1410.5" y1="605.3" x2="1410.5" y2="620" stroke="#000" stroke-opacity="0.17" stroke-width="0.9"/><line x1="1422.5" y1="569.6" x2="1422.5" y2="605.3" stroke="#1A1A1A" stroke-width="1.0"/><line x1="1422.5" y1="605.3" x2="1422.5" y2="620" stroke="#000" stroke-opacity="0.17" stroke-width="0.9"/><line x1="1432.5" y1="569.6" x2="1432.5" y2="605.3" stroke="#1A1A1A" stroke-width="1.0"/><line x1="1432.5" y1="605.3" x2="1432.5" y2="620" stroke="#000" stroke-opacity="0.17" stroke-width="0.9"/><line x1="1439.5" y1="569.6" x2="1439.5" y2="605.3" stroke="#1A1A1A" stroke-width="1.0"/><line x1="1439.5" y1="605.3" x2="1439.5" y2="620" stroke="#000" stroke-opacity="0.17" stroke-width="0.9"/><line x1="1439.5" y1="569.6" x2="1439.5" y2="605.3" stroke="#1A1A1A" stroke-width="1.0"/><line x1="1439.5" y1="605.3" x2="1439.5" y2="620" stroke="#000" stroke-opacity="0.17" stroke-width="0.9"/><line x1="1451.5" y1="569.6" x2="1451.5" y2="605.3" stroke="#1A1A1A" stroke-width="1.0"/><line x1="1451.5" y1="605.3" x2="1451.5" y2="620" stroke="#000" stroke-opacity="0.17" stroke-width="0.9"/><line x1="1454.5" y1="569.6" x2="1454.5" y2="605.3" stroke="#1A1A1A" stroke-width="1.0"/><line x1="1454.5" y1="605.3" x2="1454.5" y2="620" stroke="#000" stroke-opacity="0.17" stroke-width="0.9"/><line x1="1460.5" y1="569.6" x2="1460.5" y2="605.3" stroke="#1A1A1A" stroke-width="1.0"/><line x1="1460.5" y1="605.3" x2="1460.5" y2="620" stroke="#000" stroke-opacity="0.17" stroke-width="0.9"/><line x1="1472.5" y1="569.6" x2="1472.5" y2="605.3" stroke="#1A1A1A" stroke-width="1.0"/><line x1="1472.5" y1="605.3" x2="1472.5" y2="620" stroke="#000" stroke-opacity="0.17" stroke-width="0.9"/><line x1="1476.5" y1="569.6" x2="1476.5" y2="605.3" stroke="#1A1A1A" stroke-width="1.0"/><line x1="1476.5" y1="605.3" x2="1476.5" y2="620" stroke="#000" stroke-opacity="0.17" stroke-width="0.9"/><line x1="1482.5" y1="569.6" x2="1482.5" y2="605.3" stroke="#1A1A1A" stroke-width="1.0"/><line x1="1482.5" y1="605.3" x2="1482.5" y2="620" stroke="#000" stroke-opacity="0.17" stroke-width="0.9"/><line x1="1484.5" y1="569.6" x2="1484.5" y2="605.3" stroke="#1A1A1A" stroke-width="1.0"/><line x1="1484.5" y1="605.3" x2="1484.5" y2="620" stroke="#000" stroke-opacity="0.17" stroke-width="0.9"/><line x1="1490.5" y1="569.6" x2="1490.5" y2="605.3" stroke="#1A1A1A" stroke-width="1.0"/><line x1="1490.5" y1="605.3" x2="1490.5" y2="620" stroke="#000" stroke-opacity="0.17" stroke-width="0.9"/><line x1="1495.5" y1="569.6" x2="1495.5" y2="605.3" stroke="#1A1A1A" stroke-width="1.0"/><line x1="1495.5" y1="605.3" x2="1495.5" y2="620" stroke="#000" stroke-opacity="0.17" stroke-width="0.9"/><line x1="1499.5" y1="569.6" x2="1499.5" y2="605.3" stroke="#1A1A1A" stroke-width="1.0"/><line x1="1499.5" y1="605.3" x2="1499.5" y2="620" stroke="#000" stroke-opacity="0.17" stroke-width="0.9"/><line x1="1502.5" y1="569.6" x2="1502.5" y2="605.3" stroke="#1A1A1A" stroke-width="1.0"/><line x1="1502.5" y1="605.3" x2="1502.5" y2="620" stroke="#000" stroke-opacity="0.17" stroke-width="0.9"/><line x1="1506.5" y1="569.6" x2="1506.5" y2="605.3" stroke="#1A1A1A" stroke-width="1.0"/><line x1="1506.5" y1="605.3" x2="1506.5" y2="620" stroke="#000" stroke-opacity="0.17" stroke-width="0.9"/><line x1="1527.5" y1="569.6" x2="1527.5" y2="605.3" stroke="#1A1A1A" stroke-width="1.0"/><line x1="1527.5" y1="605.3" x2="1527.5" y2="620" stroke="#000" stroke-opacity="0.17" stroke-width="0.9"/><line x1="1542.5" y1="569.6" x2="1542.5" y2="605.3" stroke="#1A1A1A" stroke-width="1.0"/><line x1="1542.5" y1="605.3" x2="1542.5" y2="620" stroke="#000" stroke-opacity="0.17" stroke-width="0.9"/><line x1="1554.5" y1="569.6" x2="1554.5" y2="605.3" stroke="#1A1A1A" stroke-width="1.0"/><line x1="1554.5" y1="605.3" x2="1554.5" y2="620" stroke="#000" stroke-opacity="0.17" stroke-width="0.9"/><line x1="1611.5" y1="569.6" x2="1611.5" y2="605.3" stroke="#1A1A1A" stroke-width="1.0"/><line x1="1611.5" y1="605.3" x2="1611.5" y2="620" stroke="#000" stroke-opacity="0.17" stroke-width="0.9"/><line x1="1638.5" y1="569.6" x2="1638.5" y2="605.3" stroke="#1A1A1A" stroke-width="1.0"/><line x1="1638.5" y1="605.3" x2="1638.5" y2="620" stroke="#000" stroke-opacity="0.17" stroke-width="0.9"/>
<rect x="1382.1" y="569.6" width="372.5" height="50.4" fill="none" stroke="#9A9A9A" stroke-width="1.0"/>
<text x="1555" y="637.9" font-size="12" font-weight="bold" text-anchor="middle" fill="#000">Rank in Ordered Dataset</text>
<text x="1574.2" y="1148.6" font-size="18.4" font-weight="bold" text-anchor="middle" fill="#000">glycolysis / gluconeogenesis</text>
<rect x="1393.8" y="1161.6" width="372.3" height="152.9" fill="#FFFFFF"/>
<line x1="1393.8" y1="1276.4" x2="1766.1" y2="1276.4" stroke="#F2F2F2" stroke-width="0.8"/><line x1="1393.8" y1="1229.7" x2="1766.1" y2="1229.7" stroke="#F2F2F2" stroke-width="0.8"/><line x1="1393.8" y1="1183.1" x2="1766.1" y2="1183.1" stroke="#F2F2F2" stroke-width="0.8"/><line x1="1436.95" y1="1161.6" x2="1436.95" y2="1314.5" stroke="#EBEBEB" stroke-width="0.9"/><line x1="1480.1" y1="1161.6" x2="1480.1" y2="1314.5" stroke="#EBEBEB" stroke-width="0.9"/><line x1="1523.25" y1="1161.6" x2="1523.25" y2="1314.5" stroke="#EBEBEB" stroke-width="0.9"/><line x1="1566.4" y1="1161.6" x2="1566.4" y2="1314.5" stroke="#EBEBEB" stroke-width="0.9"/><line x1="1609.55" y1="1161.6" x2="1609.55" y2="1314.5" stroke="#EBEBEB" stroke-width="0.9"/><line x1="1652.7" y1="1161.6" x2="1652.7" y2="1314.5" stroke="#EBEBEB" stroke-width="0.9"/><line x1="1695.85" y1="1161.6" x2="1695.85" y2="1314.5" stroke="#EBEBEB" stroke-width="0.9"/><line x1="1739" y1="1161.6" x2="1739" y2="1314.5" stroke="#EBEBEB" stroke-width="0.9"/><line x1="1393.8" y1="1300.3" x2="1766.1" y2="1300.3" stroke="#EBEBEB" stroke-width="0.9"/><line x1="1393.8" y1="1253.1" x2="1766.1" y2="1253.1" stroke="#EBEBEB" stroke-width="0.9"/><line x1="1393.8" y1="1206.3" x2="1766.1" y2="1206.3" stroke="#EBEBEB" stroke-width="0.9"/>
<line x1="1393.8" y1="1168.4" x2="1766.1" y2="1168.4" stroke="#A6A6A6" stroke-width="0.9" stroke-dasharray="3.6,3.2"/>
<line x1="1471" y1="1161.6" x2="1471" y2="1314.5" stroke="#A6A6A6" stroke-width="0.9" stroke-dasharray="3.6,3.2"/>
<polyline points="1393.8,1300.3 1395.1,1301.4 1395.6,1289 1396.3,1288.6 1396.8,1277.8 1398.6,1278.8 1399.1,1268.9 1401.6,1270.6 1402,1261.2 1402.8,1260.7 1403.1,1243.5 1403.9,1243 1404.3,1226.3 1405,1225.8 1405.3,1218.5 1409.3,1220.6 1409.8,1213.4 1420.6,1219.9 1420.9,1214.2 1422.7,1215 1423.2,1203.8 1426.5,1205.2 1427,1200 1427.7,1195.2 1428.6,1189.8 1434.3,1193.3 1434.8,1189.1 1436.1,1188.8 1436.6,1184.8 1439.9,1186.6 1440.4,1178.1 1441.5,1177.6 1442.3,1174.3 1454.1,1181.8 1454.7,1178.6 1456.3,1179.4 1456.8,1175.6 1462.9,1179.4 1463.5,1176.4 1465.9,1178.1 1466.3,1174.8 1467.7,1172.7 1469.9,1174.1 1471.7,1168.9 1489.7,1180.2 1490.3,1177.8 1526.2,1200.6 1527.8,1199 1536.9,1204.3 1538,1203.5 1548.7,1210.4 1549.8,1209.9 1553,1212.4 1554.1,1211.9 1562.6,1217.4 1565.8,1218.5 1613,1246.4 1633.8,1259 1641.5,1263.9 1642.6,1263.1 1646.9,1264.2 1674.9,1282 1675.7,1280.7 1687.5,1288.3 1687.8,1284.7 1694,1288.8 1694.6,1286.9 1712.7,1298.2 1713.8,1293.8 1735.9,1307.7 1736.7,1304.4 1737.6,1301.7 1739.5,1303.3 1741.1,1295.1 1751.3,1301.5 1752.1,1296.8 1753.5,1297.3 1754,1291.9 1765.8,1300.1" fill="none" stroke="#9F4D07" stroke-width="1.65" stroke-linejoin="miter" stroke-miterlimit="3"/>
<text x="1641" y="1184.8" font-size="9.9" font-weight="bold" text-anchor="start" fill="#9C9C9C">ES = 0.5614122</text>
<text x="1641" y="1196.6" font-size="9.9" font-weight="bold" text-anchor="start" fill="#9C9C9C">P Value = 0;</text>
<text x="1641" y="1208.3" font-size="9.9" font-weight="bold" text-anchor="start" fill="#9C9C9C">FDR Value = 0.004704857</text>
<rect x="1393.8" y="1161.6" width="372.3" height="152.9" fill="none" stroke="#9A9A9A" stroke-width="1.1"/>
<line x1="1391.6" y1="1300.3" x2="1393.8" y2="1300.3" stroke="#333" stroke-width="0.9"/>
<text x="1390.6" y="1304.4" font-size="10" font-weight="normal" text-anchor="end" fill="#1A1A1A">0.0</text>
<line x1="1391.6" y1="1253.1" x2="1393.8" y2="1253.1" stroke="#333" stroke-width="0.9"/>
<text x="1390.6" y="1257.2" font-size="10" font-weight="normal" text-anchor="end" fill="#1A1A1A">0.2</text>
<line x1="1391.6" y1="1206.3" x2="1393.8" y2="1206.3" stroke="#333" stroke-width="0.9"/>
<text x="1390.6" y="1210.4" font-size="10" font-weight="normal" text-anchor="end" fill="#1A1A1A">0.4</text>
<text x="0" y="0" font-size="11.9" font-weight="bold" text-anchor="middle" fill="#000" transform="translate(1361,1237.5) rotate(-90)">Running Enrichment Score</text>
<rect x="1393.8" y="1317.3" width="372.3" height="50.5" fill="#FFFFFF"/>
<rect x="1393.5" y="1352.9" width="12.3" height="14.9" fill="#6E4426"/><rect x="1405.5" y="1352.9" width="41.4" height="14.9" fill="#A0602A"/><rect x="1446.6" y="1352.9" width="70.7" height="14.9" fill="#C88537"/><rect x="1517" y="1352.9" width="50.8" height="14.9" fill="#E2AA5F"/><rect x="1567.5" y="1352.9" width="55.1" height="14.9" fill="#F0D29E"/><rect x="1622.3" y="1352.9" width="74.6" height="14.9" fill="#D9CBC4"/><rect x="1696.6" y="1352.9" width="28.4" height="14.9" fill="#A49DC9"/><rect x="1724.7" y="1352.9" width="29.3" height="14.9" fill="#7B6BAD"/><rect x="1753.7" y="1352.9" width="12.7" height="14.9" fill="#583C8C"/>
<line x1="1394.5" y1="1317.3" x2="1394.5" y2="1352.9" stroke="#1A1A1A" stroke-width="1.0"/><line x1="1394.5" y1="1352.9" x2="1394.5" y2="1367.8" stroke="#000" stroke-opacity="0.17" stroke-width="0.9"/><line x1="1396.5" y1="1317.3" x2="1396.5" y2="1352.9" stroke="#1A1A1A" stroke-width="1.0"/><line x1="1396.5" y1="1352.9" x2="1396.5" y2="1367.8" stroke="#000" stroke-opacity="0.17" stroke-width="0.9"/><line x1="1398.5" y1="1317.3" x2="1398.5" y2="1352.9" stroke="#1A1A1A" stroke-width="1.0"/><line x1="1398.5" y1="1352.9" x2="1398.5" y2="1367.8" stroke="#000" stroke-opacity="0.17" stroke-width="0.9"/><line x1="1402.5" y1="1317.3" x2="1402.5" y2="1352.9" stroke="#1A1A1A" stroke-width="1.0"/><line x1="1402.5" y1="1352.9" x2="1402.5" y2="1367.8" stroke="#000" stroke-opacity="0.17" stroke-width="0.9"/><line x1="1403.5" y1="1317.3" x2="1403.5" y2="1352.9" stroke="#1A1A1A" stroke-width="1.0"/><line x1="1403.5" y1="1352.9" x2="1403.5" y2="1367.8" stroke="#000" stroke-opacity="0.17" stroke-width="0.9"/><line x1="1404.5" y1="1317.3" x2="1404.5" y2="1352.9" stroke="#1A1A1A" stroke-width="1.0"/><line x1="1404.5" y1="1352.9" x2="1404.5" y2="1367.8" stroke="#000" stroke-opacity="0.17" stroke-width="0.9"/><line x1="1409.5" y1="1317.3" x2="1409.5" y2="1352.9" stroke="#1A1A1A" stroke-width="1.0"/><line x1="1409.5" y1="1352.9" x2="1409.5" y2="1367.8" stroke="#000" stroke-opacity="0.17" stroke-width="0.9"/><line x1="1420.5" y1="1317.3" x2="1420.5" y2="1352.9" stroke="#1A1A1A" stroke-width="1.0"/><line x1="1420.5" y1="1352.9" x2="1420.5" y2="1367.8" stroke="#000" stroke-opacity="0.17" stroke-width="0.9"/><line x1="1423.5" y1="1317.3" x2="1423.5" y2="1352.9" stroke="#1A1A1A" stroke-width="1.0"/><line x1="1423.5" y1="1352.9" x2="1423.5" y2="1367.8" stroke="#000" stroke-opacity="0.17" stroke-width="0.9"/><line x1="1428.5" y1="1317.3" x2="1428.5" y2="1352.9" stroke="#1A1A1A" stroke-width="1.0"/><line x1="1428.5" y1="1352.9" x2="1428.5" y2="1367.8" stroke="#000" stroke-opacity="0.17" stroke-width="0.9"/><line x1="1428.5" y1="1317.3" x2="1428.5" y2="1352.9" stroke="#1A1A1A" stroke-width="1.0"/><line x1="1428.5" y1="1352.9" x2="1428.5" y2="1367.8" stroke="#000" stroke-opacity="0.17" stroke-width="0.9"/><line x1="1434.5" y1="1317.3" x2="1434.5" y2="1352.9" stroke="#1A1A1A" stroke-width="1.0"/><line x1="1434.5" y1="1352.9" x2="1434.5" y2="1367.8" stroke="#000" stroke-opacity="0.17" stroke-width="0.9"/><line x1="1436.5" y1="1317.3" x2="1436.5" y2="1352.9" stroke="#1A1A1A" stroke-width="1.0"/><line x1="1436.5" y1="1352.9" x2="1436.5" y2="1367.8" stroke="#000" stroke-opacity="0.17" stroke-width="0.9"/><line x1="1440.5" y1="1317.3" x2="1440.5" y2="1352.9" stroke="#1A1A1A" stroke-width="1.0"/><line x1="1440.5" y1="1352.9" x2="1440.5" y2="1367.8" stroke="#000" stroke-opacity="0.17" stroke-width="0.9"/><line x1="1442.5" y1="1317.3" x2="1442.5" y2="1352.9" stroke="#1A1A1A" stroke-width="1.0"/><line x1="1442.5" y1="1352.9" x2="1442.5" y2="1367.8" stroke="#000" stroke-opacity="0.17" stroke-width="0.9"/><line x1="1454.5" y1="1317.3" x2="1454.5" y2="1352.9" stroke="#1A1A1A" stroke-width="1.0"/><line x1="1454.5" y1="1352.9" x2="1454.5" y2="1367.8" stroke="#000" stroke-opacity="0.17" stroke-width="0.9"/><line x1="1456.5" y1="1317.3" x2="1456.5" y2="1352.9" stroke="#1A1A1A" stroke-width="1.0"/><line x1="1456.5" y1="1352.9" x2="1456.5" y2="1367.8" stroke="#000" stroke-opacity="0.17" stroke-width="0.9"/><line x1="1462.5" y1="1317.3" x2="1462.5" y2="1352.9" stroke="#1A1A1A" stroke-width="1.0"/><line x1="1462.5" y1="1352.9" x2="1462.5" y2="1367.8" stroke="#000" stroke-opacity="0.17" stroke-width="0.9"/><line x1="1466.5" y1="1317.3" x2="1466.5" y2="1352.9" stroke="#1A1A1A" stroke-width="1.0"/><line x1="1466.5" y1="1352.9" x2="1466.5" y2="1367.8" stroke="#000" stroke-opacity="0.17" stroke-width="0.9"/><line x1="1466.5" y1="1317.3" x2="1466.5" y2="1352.9" stroke="#1A1A1A" stroke-width="1.0"/><line x1="1466.5" y1="1352.9" x2="1466.5" y2="1367.8" stroke="#000" stroke-opacity="0.17" stroke-width="0.9"/><line x1="1471.5" y1="1317.3" x2="1471.5" y2="1352.9" stroke="#1A1A1A" stroke-width="1.0"/><line x1="1471.5" y1="1352.9" x2="1471.5" y2="1367.8" stroke="#000" stroke-opacity="0.17" stroke-width="0.9"/><line x1="1490.5" y1="1317.3" x2="1490.5" y2="1352.9" stroke="#1A1A1A" stroke-width="1.0"/><line x1="1490.5" y1="1352.9" x2="1490.5" y2="1367.8" stroke="#000" stroke-opacity="0.17" stroke-width="0.9"/><line x1="1527.5" y1="1317.3" x2="1527.5" y2="1352.9" stroke="#1A1A1A" stroke-width="1.0"/><line x1="1527.5" y1="1352.9" x2="1527.5" y2="1367.8" stroke="#000" stroke-opacity="0.17" stroke-width="0.9"/><line x1="1537.5" y1="1317.3" x2="1537.5" y2="1352.9" stroke="#1A1A1A" stroke-width="1.0"/><line x1="1537.5" y1="1352.9" x2="1537.5" y2="1367.8" stroke="#000" stroke-opacity="0.17" stroke-width="0.9"/><line x1="1548.5" y1="1317.3" x2="1548.5" y2="1352.9" stroke="#1A1A1A" stroke-width="1.0"/><line x1="1548.5" y1="1352.9" x2="1548.5" y2="1367.8" stroke="#000" stroke-opacity="0.17" stroke-width="0.9"/><line x1="1553.5" y1="1317.3" x2="1553.5" y2="1352.9" stroke="#1A1A1A" stroke-width="1.0"/><line x1="1553.5" y1="1352.9" x2="1553.5" y2="1367.8" stroke="#000" stroke-opacity="0.17" stroke-width="0.9"/><line x1="1563.5" y1="1317.3" x2="1563.5" y2="1352.9" stroke="#1A1A1A" stroke-width="1.0"/><line x1="1563.5" y1="1352.9" x2="1563.5" y2="1367.8" stroke="#000" stroke-opacity="0.17" stroke-width="0.9"/><line x1="1566.5" y1="1317.3" x2="1566.5" y2="1352.9" stroke="#1A1A1A" stroke-width="1.0"/><line x1="1566.5" y1="1352.9" x2="1566.5" y2="1367.8" stroke="#000" stroke-opacity="0.17" stroke-width="0.9"/><line x1="1569.5" y1="1317.3" x2="1569.5" y2="1352.9" stroke="#1A1A1A" stroke-width="1.0"/><line x1="1569.5" y1="1352.9" x2="1569.5" y2="1367.8" stroke="#000" stroke-opacity="0.17" stroke-width="0.9"/><line x1="1573.5" y1="1317.3" x2="1573.5" y2="1352.9" stroke="#1A1A1A" stroke-width="1.0"/><line x1="1573.5" y1="1352.9" x2="1573.5" y2="1367.8" stroke="#000" stroke-opacity="0.17" stroke-width="0.9"/><line x1="1581.5" y1="1317.3" x2="1581.5" y2="1352.9" stroke="#1A1A1A" stroke-width="1.0"/><line x1="1581.5" y1="1352.9" x2="1581.5" y2="1367.8" stroke="#000" stroke-opacity="0.17" stroke-width="0.9"/><line x1="1591.5" y1="1317.3" x2="1591.5" y2="1352.9" stroke="#1A1A1A" stroke-width="1.0"/><line x1="1591.5" y1="1352.9" x2="1591.5" y2="1367.8" stroke="#000" stroke-opacity="0.17" stroke-width="0.9"/><line x1="1596.5" y1="1317.3" x2="1596.5" y2="1352.9" stroke="#1A1A1A" stroke-width="1.0"/><line x1="1596.5" y1="1352.9" x2="1596.5" y2="1367.8" stroke="#000" stroke-opacity="0.17" stroke-width="0.9"/><line x1="1601.5" y1="1317.3" x2="1601.5" y2="1352.9" stroke="#1A1A1A" stroke-width="1.0"/><line x1="1601.5" y1="1352.9" x2="1601.5" y2="1367.8" stroke="#000" stroke-opacity="0.17" stroke-width="0.9"/><line x1="1606.5" y1="1317.3" x2="1606.5" y2="1352.9" stroke="#1A1A1A" stroke-width="1.0"/><line x1="1606.5" y1="1352.9" x2="1606.5" y2="1367.8" stroke="#000" stroke-opacity="0.17" stroke-width="0.9"/><line x1="1607.5" y1="1317.3" x2="1607.5" y2="1352.9" stroke="#1A1A1A" stroke-width="1.0"/><line x1="1607.5" y1="1352.9" x2="1607.5" y2="1367.8" stroke="#000" stroke-opacity="0.17" stroke-width="0.9"/><line x1="1613.5" y1="1317.3" x2="1613.5" y2="1352.9" stroke="#1A1A1A" stroke-width="1.0"/><line x1="1613.5" y1="1352.9" x2="1613.5" y2="1367.8" stroke="#000" stroke-opacity="0.17" stroke-width="0.9"/><line x1="1634.5" y1="1317.3" x2="1634.5" y2="1352.9" stroke="#1A1A1A" stroke-width="1.0"/><line x1="1634.5" y1="1352.9" x2="1634.5" y2="1367.8" stroke="#000" stroke-opacity="0.17" stroke-width="0.9"/><line x1="1642.5" y1="1317.3" x2="1642.5" y2="1352.9" stroke="#1A1A1A" stroke-width="1.0"/><line x1="1642.5" y1="1352.9" x2="1642.5" y2="1367.8" stroke="#000" stroke-opacity="0.17" stroke-width="0.9"/><line x1="1645.5" y1="1317.3" x2="1645.5" y2="1352.9" stroke="#1A1A1A" stroke-width="1.0"/><line x1="1645.5" y1="1352.9" x2="1645.5" y2="1367.8" stroke="#000" stroke-opacity="0.17" stroke-width="0.9"/><line x1="1646.5" y1="1317.3" x2="1646.5" y2="1352.9" stroke="#1A1A1A" stroke-width="1.0"/><line x1="1646.5" y1="1352.9" x2="1646.5" y2="1367.8" stroke="#000" stroke-opacity="0.17" stroke-width="0.9"/><line x1="1675.5" y1="1317.3" x2="1675.5" y2="1352.9" stroke="#1A1A1A" stroke-width="1.0"/><line x1="1675.5" y1="1352.9" x2="1675.5" y2="1367.8" stroke="#000" stroke-opacity="0.17" stroke-width="0.9"/><line x1="1687.5" y1="1317.3" x2="1687.5" y2="1352.9" stroke="#1A1A1A" stroke-width="1.0"/><line x1="1687.5" y1="1352.9" x2="1687.5" y2="1367.8" stroke="#000" stroke-opacity="0.17" stroke-width="0.9"/><line x1="1694.5" y1="1317.3" x2="1694.5" y2="1352.9" stroke="#1A1A1A" stroke-width="1.0"/><line x1="1694.5" y1="1352.9" x2="1694.5" y2="1367.8" stroke="#000" stroke-opacity="0.17" stroke-width="0.9"/><line x1="1713.5" y1="1317.3" x2="1713.5" y2="1352.9" stroke="#1A1A1A" stroke-width="1.0"/><line x1="1713.5" y1="1352.9" x2="1713.5" y2="1367.8" stroke="#000" stroke-opacity="0.17" stroke-width="0.9"/><line x1="1736.5" y1="1317.3" x2="1736.5" y2="1352.9" stroke="#1A1A1A" stroke-width="1.0"/><line x1="1736.5" y1="1352.9" x2="1736.5" y2="1367.8" stroke="#000" stroke-opacity="0.17" stroke-width="0.9"/><line x1="1737.5" y1="1317.3" x2="1737.5" y2="1352.9" stroke="#1A1A1A" stroke-width="1.0"/><line x1="1737.5" y1="1352.9" x2="1737.5" y2="1367.8" stroke="#000" stroke-opacity="0.17" stroke-width="0.9"/><line x1="1740.5" y1="1317.3" x2="1740.5" y2="1352.9" stroke="#1A1A1A" stroke-width="1.0"/><line x1="1740.5" y1="1352.9" x2="1740.5" y2="1367.8" stroke="#000" stroke-opacity="0.17" stroke-width="0.9"/><line x1="1751.5" y1="1317.3" x2="1751.5" y2="1352.9" stroke="#1A1A1A" stroke-width="1.0"/><line x1="1751.5" y1="1352.9" x2="1751.5" y2="1367.8" stroke="#000" stroke-opacity="0.17" stroke-width="0.9"/><line x1="1753.5" y1="1317.3" x2="1753.5" y2="1352.9" stroke="#1A1A1A" stroke-width="1.0"/><line x1="1753.5" y1="1352.9" x2="1753.5" y2="1367.8" stroke="#000" stroke-opacity="0.17" stroke-width="0.9"/>
<rect x="1393.8" y="1317.3" width="372.3" height="50.5" fill="none" stroke="#9A9A9A" stroke-width="1.0"/>
<text x="1570.8" y="1385.9" font-size="12" font-weight="bold" text-anchor="middle" fill="#000">Rank in Ordered Dataset</text>
<text x="1573.4" y="1424.4" font-size="18.4" font-weight="bold" text-anchor="middle" fill="#000">citrate cycle (tca cycle)</text>
<rect x="1391.4" y="1436.8" width="372.2" height="152.8" fill="#FFFFFF"/>
<line x1="1391.4" y1="1560.7" x2="1763.6" y2="1560.7" stroke="#F2F2F2" stroke-width="0.8"/><line x1="1391.4" y1="1518.3" x2="1763.6" y2="1518.3" stroke="#F2F2F2" stroke-width="0.8"/><line x1="1391.4" y1="1476" x2="1763.6" y2="1476" stroke="#F2F2F2" stroke-width="0.8"/><line x1="1434.4" y1="1436.8" x2="1434.4" y2="1589.6" stroke="#EBEBEB" stroke-width="0.9"/><line x1="1477.4" y1="1436.8" x2="1477.4" y2="1589.6" stroke="#EBEBEB" stroke-width="0.9"/><line x1="1520.4" y1="1436.8" x2="1520.4" y2="1589.6" stroke="#EBEBEB" stroke-width="0.9"/><line x1="1563.4" y1="1436.8" x2="1563.4" y2="1589.6" stroke="#EBEBEB" stroke-width="0.9"/><line x1="1606.4" y1="1436.8" x2="1606.4" y2="1589.6" stroke="#EBEBEB" stroke-width="0.9"/><line x1="1649.4" y1="1436.8" x2="1649.4" y2="1589.6" stroke="#EBEBEB" stroke-width="0.9"/><line x1="1692.4" y1="1436.8" x2="1692.4" y2="1589.6" stroke="#EBEBEB" stroke-width="0.9"/><line x1="1735.4" y1="1436.8" x2="1735.4" y2="1589.6" stroke="#EBEBEB" stroke-width="0.9"/><line x1="1391.4" y1="1582.1" x2="1763.6" y2="1582.1" stroke="#EBEBEB" stroke-width="0.9"/><line x1="1391.4" y1="1539.5" x2="1763.6" y2="1539.5" stroke="#EBEBEB" stroke-width="0.9"/><line x1="1391.4" y1="1497.2" x2="1763.6" y2="1497.2" stroke="#EBEBEB" stroke-width="0.9"/><line x1="1391.4" y1="1455.1" x2="1763.6" y2="1455.1" stroke="#EBEBEB" stroke-width="0.9"/>
<line x1="1391.4" y1="1443.5" x2="1763.6" y2="1443.5" stroke="#A6A6A6" stroke-width="0.9" stroke-dasharray="3.6,3.2"/>
<line x1="1472.4" y1="1436.8" x2="1472.4" y2="1589.6" stroke="#A6A6A6" stroke-width="0.9" stroke-dasharray="3.6,3.2"/>
<polyline points="1391.4,1582.1 1393.1,1582.6 1393.4,1560.1 1403.5,1566 1403.9,1550.8 1413.7,1556.6 1414.1,1544.4 1419.1,1547.3 1419.4,1536 1424.5,1539.4 1424.8,1529 1425.3,1519.1 1432.5,1523.4 1432.8,1514.6 1433.6,1506.2 1436.8,1508.1 1437.1,1500.1 1437.9,1492 1440.5,1493.3 1440.8,1478.1 1441.4,1470.1 1447,1473.3 1447.5,1458.6 1452.6,1461.8 1452.9,1454.7 1460.7,1459.3 1460.9,1453.2 1467.6,1457.5 1467.9,1451.8 1468.6,1447 1471.1,1448.6 1472.7,1443.3 1508.3,1463.6 1508.6,1460.4 1523.6,1469 1524.2,1466.5 1531.7,1471.1 1532.2,1469 1549.4,1478.6 1551.5,1476.5 1624.2,1517.9 1625.3,1517.6 1639,1525.6 1640.1,1524.9 1730.4,1576.5 1730.9,1570.2 1738.3,1574.3 1738.8,1567.5 1763.4,1581.8" fill="none" stroke="#9F4D07" stroke-width="1.65" stroke-linejoin="miter" stroke-miterlimit="3"/>
<text x="1634.9" y="1461.3" font-size="9.9" font-weight="bold" text-anchor="start" fill="#9C9C9C">ES = 0.6542451</text>
<text x="1634.9" y="1473.9" font-size="9.9" font-weight="bold" text-anchor="start" fill="#9C9C9C">P Value = 0.00269179;</text>
<text x="1634.9" y="1485.9" font-size="9.9" font-weight="bold" text-anchor="start" fill="#9C9C9C">FDR Value = 0.0028846639</text>
<rect x="1391.4" y="1436.8" width="372.2" height="152.8" fill="none" stroke="#9A9A9A" stroke-width="1.1"/>
<line x1="1389.2" y1="1582.1" x2="1391.4" y2="1582.1" stroke="#333" stroke-width="0.9"/>
<text x="1388.2" y="1586.2" font-size="10" font-weight="normal" text-anchor="end" fill="#1A1A1A">0.0</text>
<line x1="1389.2" y1="1539.5" x2="1391.4" y2="1539.5" stroke="#333" stroke-width="0.9"/>
<text x="1388.2" y="1543.6" font-size="10" font-weight="normal" text-anchor="end" fill="#1A1A1A">0.2</text>
<line x1="1389.2" y1="1497.2" x2="1391.4" y2="1497.2" stroke="#333" stroke-width="0.9"/>
<text x="1388.2" y="1501.3" font-size="10" font-weight="normal" text-anchor="end" fill="#1A1A1A">0.4</text>
<line x1="1389.2" y1="1455.1" x2="1391.4" y2="1455.1" stroke="#333" stroke-width="0.9"/>
<text x="1388.2" y="1459.2" font-size="10" font-weight="normal" text-anchor="end" fill="#1A1A1A">0.6</text>
<text x="0" y="0" font-size="11.9" font-weight="bold" text-anchor="middle" fill="#000" transform="translate(1358.6,1513) rotate(-90)">Running Enrichment Score</text>
<rect x="1391.4" y="1592.2" width="372.2" height="50.8" fill="#FFFFFF"/>
<rect x="1391.3" y="1627.8" width="24.8" height="15.2" fill="#78482A"/><rect x="1415.8" y="1627.8" width="114.5" height="15.2" fill="#A0602A"/><rect x="1530" y="1627.8" width="101" height="15.2" fill="#C88537"/><rect x="1630.7" y="1627.8" width="55.4" height="15.2" fill="#E2AA5F"/><rect x="1685.8" y="1627.8" width="21.9" height="15.2" fill="#F0D29E"/><rect x="1707.4" y="1627.8" width="7.1" height="15.2" fill="#D9CBC4"/><rect x="1714.2" y="1627.8" width="7.5" height="15.2" fill="#A49DC9"/><rect x="1721.4" y="1627.8" width="9.1" height="15.2" fill="#7B6BAD"/><rect x="1730.2" y="1627.8" width="32.2" height="15.2" fill="#583C8C"/><rect x="1762.1" y="1627.8" width="2" height="15.2" fill="#3C1E64"/>
<line x1="1393.5" y1="1592.2" x2="1393.5" y2="1627.8" stroke="#1A1A1A" stroke-width="1.0"/><line x1="1393.5" y1="1627.8" x2="1393.5" y2="1643" stroke="#000" stroke-opacity="0.17" stroke-width="0.9"/><line x1="1403.5" y1="1592.2" x2="1403.5" y2="1627.8" stroke="#1A1A1A" stroke-width="1.0"/><line x1="1403.5" y1="1627.8" x2="1403.5" y2="1643" stroke="#000" stroke-opacity="0.17" stroke-width="0.9"/><line x1="1413.5" y1="1592.2" x2="1413.5" y2="1627.8" stroke="#1A1A1A" stroke-width="1.0"/><line x1="1413.5" y1="1627.8" x2="1413.5" y2="1643" stroke="#000" stroke-opacity="0.17" stroke-width="0.9"/><line x1="1419.5" y1="1592.2" x2="1419.5" y2="1627.8" stroke="#1A1A1A" stroke-width="1.0"/><line x1="1419.5" y1="1627.8" x2="1419.5" y2="1643" stroke="#000" stroke-opacity="0.17" stroke-width="0.9"/><line x1="1424.5" y1="1592.2" x2="1424.5" y2="1627.8" stroke="#1A1A1A" stroke-width="1.0"/><line x1="1424.5" y1="1627.8" x2="1424.5" y2="1643" stroke="#000" stroke-opacity="0.17" stroke-width="0.9"/><line x1="1432.5" y1="1592.2" x2="1432.5" y2="1627.8" stroke="#1A1A1A" stroke-width="1.0"/><line x1="1432.5" y1="1627.8" x2="1432.5" y2="1643" stroke="#000" stroke-opacity="0.17" stroke-width="0.9"/><line x1="1437.5" y1="1592.2" x2="1437.5" y2="1627.8" stroke="#1A1A1A" stroke-width="1.0"/><line x1="1437.5" y1="1627.8" x2="1437.5" y2="1643" stroke="#000" stroke-opacity="0.17" stroke-width="0.9"/><line x1="1440.5" y1="1592.2" x2="1440.5" y2="1627.8" stroke="#1A1A1A" stroke-width="1.0"/><line x1="1440.5" y1="1627.8" x2="1440.5" y2="1643" stroke="#000" stroke-opacity="0.17" stroke-width="0.9"/><line x1="1447.5" y1="1592.2" x2="1447.5" y2="1627.8" stroke="#1A1A1A" stroke-width="1.0"/><line x1="1447.5" y1="1627.8" x2="1447.5" y2="1643" stroke="#000" stroke-opacity="0.17" stroke-width="0.9"/><line x1="1452.5" y1="1592.2" x2="1452.5" y2="1627.8" stroke="#1A1A1A" stroke-width="1.0"/><line x1="1452.5" y1="1627.8" x2="1452.5" y2="1643" stroke="#000" stroke-opacity="0.17" stroke-width="0.9"/><line x1="1460.5" y1="1592.2" x2="1460.5" y2="1627.8" stroke="#1A1A1A" stroke-width="1.0"/><line x1="1460.5" y1="1627.8" x2="1460.5" y2="1643" stroke="#000" stroke-opacity="0.17" stroke-width="0.9"/><line x1="1467.5" y1="1592.2" x2="1467.5" y2="1627.8" stroke="#1A1A1A" stroke-width="1.0"/><line x1="1467.5" y1="1627.8" x2="1467.5" y2="1643" stroke="#000" stroke-opacity="0.17" stroke-width="0.9"/><line x1="1468.5" y1="1592.2" x2="1468.5" y2="1627.8" stroke="#1A1A1A" stroke-width="1.0"/><line x1="1468.5" y1="1627.8" x2="1468.5" y2="1643" stroke="#000" stroke-opacity="0.17" stroke-width="0.9"/><line x1="1472.5" y1="1592.2" x2="1472.5" y2="1627.8" stroke="#1A1A1A" stroke-width="1.0"/><line x1="1472.5" y1="1627.8" x2="1472.5" y2="1643" stroke="#000" stroke-opacity="0.17" stroke-width="0.9"/><line x1="1508.5" y1="1592.2" x2="1508.5" y2="1627.8" stroke="#1A1A1A" stroke-width="1.0"/><line x1="1508.5" y1="1627.8" x2="1508.5" y2="1643" stroke="#000" stroke-opacity="0.17" stroke-width="0.9"/><line x1="1524.5" y1="1592.2" x2="1524.5" y2="1627.8" stroke="#1A1A1A" stroke-width="1.0"/><line x1="1524.5" y1="1627.8" x2="1524.5" y2="1643" stroke="#000" stroke-opacity="0.17" stroke-width="0.9"/><line x1="1531.5" y1="1592.2" x2="1531.5" y2="1627.8" stroke="#1A1A1A" stroke-width="1.0"/><line x1="1531.5" y1="1627.8" x2="1531.5" y2="1643" stroke="#000" stroke-opacity="0.17" stroke-width="0.9"/><line x1="1550.5" y1="1592.2" x2="1550.5" y2="1627.8" stroke="#1A1A1A" stroke-width="1.0"/><line x1="1550.5" y1="1627.8" x2="1550.5" y2="1643" stroke="#000" stroke-opacity="0.17" stroke-width="0.9"/><line x1="1624.5" y1="1592.2" x2="1624.5" y2="1627.8" stroke="#1A1A1A" stroke-width="1.0"/><line x1="1624.5" y1="1627.8" x2="1624.5" y2="1643" stroke="#000" stroke-opacity="0.17" stroke-width="0.9"/><line x1="1639.5" y1="1592.2" x2="1639.5" y2="1627.8" stroke="#1A1A1A" stroke-width="1.0"/><line x1="1639.5" y1="1627.8" x2="1639.5" y2="1643" stroke="#000" stroke-opacity="0.17" stroke-width="0.9"/><line x1="1730.5" y1="1592.2" x2="1730.5" y2="1627.8" stroke="#1A1A1A" stroke-width="1.0"/><line x1="1730.5" y1="1627.8" x2="1730.5" y2="1643" stroke="#000" stroke-opacity="0.17" stroke-width="0.9"/><line x1="1738.5" y1="1592.2" x2="1738.5" y2="1627.8" stroke="#1A1A1A" stroke-width="1.0"/><line x1="1738.5" y1="1627.8" x2="1738.5" y2="1643" stroke="#000" stroke-opacity="0.17" stroke-width="0.9"/>
<rect x="1391.4" y="1592.2" width="372.2" height="50.8" fill="none" stroke="#9A9A9A" stroke-width="1.0"/>
<text x="1583.8" y="1660.3" font-size="12" font-weight="bold" text-anchor="middle" fill="#000">Rank in Ordered Dataset</text>
</svg>
</body></html>
